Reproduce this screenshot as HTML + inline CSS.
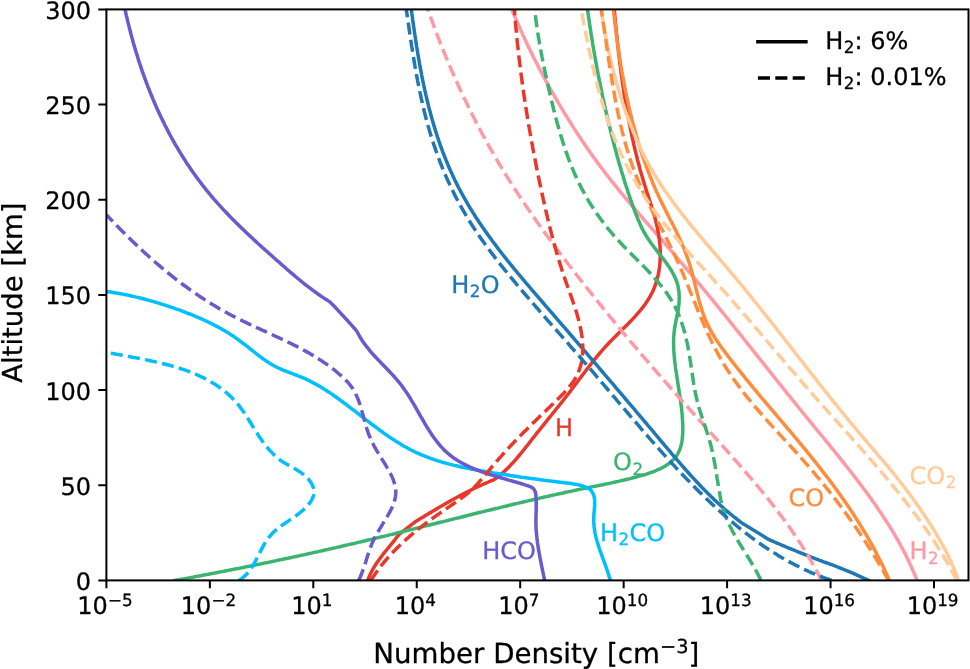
<!DOCTYPE html>
<html lang="en"><head><meta charset="utf-8"><title>Number Density vs Altitude</title>
<style>html,body{margin:0;padding:0;background:#fff}body{width:970px;height:669px;overflow:hidden}svg{will-change:transform}svg text{white-space:pre;stroke-width:0.3px;stroke-linejoin:round;text-rendering:geometricPrecision}</style>
</head><body>
<svg width="970" height="669" viewBox="0 0 970 669" style="display:block">
<rect width="970" height="669" fill="#ffffff"/>
<defs><clipPath id="ax"><rect x="106.4" y="9.4" width="862.1" height="571.0"/></clipPath></defs>
<g clip-path="url(#ax)" fill="none" stroke-width="3.5" stroke-linejoin="round">
<path d="M511.9 9.4 L512.6 11.3 L513.4 13.1 L514.2 15.0 L515.0 16.8 L515.7 18.6 L516.5 20.5 L517.3 22.3 L518.1 24.2 L518.9 26.0 L519.7 27.8 L520.5 29.7 L521.4 31.5 L522.2 33.3 L523.0 35.2 L523.9 37.0 L524.7 38.8 L525.5 40.6 L526.4 42.5 L527.3 44.3 L528.1 46.1 L529.0 47.9 L529.9 49.7 L530.8 51.5 L531.6 53.3 L532.5 55.1 L533.4 56.9 L534.3 58.7 L535.2 60.5 L536.1 62.3 L537.1 64.1 L538.0 65.9 L538.9 67.7 L539.8 69.5 L540.8 71.2 L541.7 73.0 L542.7 74.8 L543.6 76.6 L544.6 78.4 L545.5 80.1 L546.5 81.9 L547.5 83.7 L548.4 85.4 L549.4 87.2 L550.4 88.9 L551.4 90.7 L552.4 92.4 L553.4 94.2 L554.4 95.9 L555.4 97.7 L556.4 99.4 L557.4 101.2 L558.4 102.9 L559.5 104.6 L560.5 106.4 L561.5 108.1 L562.5 109.8 L563.6 111.6 L564.6 113.3 L565.7 115.0 L566.7 116.7 L567.8 118.4 L568.8 120.1 L569.9 121.8 L571.0 123.5 L572.1 125.2 L573.1 126.9 L574.2 128.6 L575.3 130.3 L576.4 132.0 L577.5 133.7 L578.6 135.4 L579.7 137.1 L580.8 138.7 L581.9 140.4 L583.1 142.1 L584.2 143.7 L585.3 145.4 L586.4 147.0 L587.6 148.7 L588.7 150.3 L589.9 152.0 L591.0 153.6 L592.2 155.3 L593.4 156.9 L594.5 158.5 L595.7 160.1 L596.9 161.8 L598.1 163.4 L599.3 165.0 L600.5 166.6 L601.7 168.2 L602.9 169.8 L604.1 171.4 L605.3 173.0 L606.6 174.6 L607.8 176.2 L609.0 177.7 L610.3 179.3 L611.5 180.9 L612.7 182.5 L614.0 184.0 L615.3 185.6 L616.5 187.2 L617.8 188.7 L619.1 190.3 L620.3 191.8 L621.6 193.4 L622.9 194.9 L624.2 196.4 L625.5 198.0 L626.8 199.5 L628.1 201.0 L629.4 202.6 L630.7 204.1 L632.0 205.6 L633.3 207.2 L634.6 208.7 L635.9 210.2 L637.2 211.7 L638.5 213.2 L639.8 214.8 L641.1 216.3 L642.5 217.8 L643.8 219.3 L645.1 220.8 L646.4 222.3 L647.7 223.9 L649.1 225.4 L650.4 226.9 L651.7 228.4 L653.0 229.9 L654.4 231.4 L655.7 232.9 L657.0 234.5 L658.3 236.0 L659.6 237.5 L660.9 239.0 L662.3 240.5 L663.6 242.0 L664.9 243.6 L666.2 245.1 L667.5 246.6 L668.8 248.1 L670.2 249.7 L671.5 251.2 L672.8 252.7 L674.1 254.2 L675.4 255.8 L676.7 257.3 L678.0 258.8 L679.3 260.3 L680.6 261.9 L681.9 263.4 L683.2 264.9 L684.5 266.5 L685.8 268.0 L687.1 269.5 L688.4 271.1 L689.7 272.6 L691.0 274.1 L692.3 275.7 L693.6 277.2 L694.9 278.8 L696.2 280.3 L697.5 281.8 L698.8 283.4 L700.1 284.9 L701.3 286.5 L702.6 288.0 L703.9 289.6 L705.2 291.1 L706.5 292.7 L707.7 294.2 L709.0 295.8 L710.3 297.3 L711.6 298.9 L712.8 300.4 L714.1 302.0 L715.4 303.5 L716.7 305.1 L717.9 306.7 L719.2 308.2 L720.5 309.8 L721.7 311.3 L723.0 312.9 L724.3 314.5 L725.5 316.0 L726.8 317.6 L728.0 319.2 L729.3 320.7 L730.6 322.3 L731.8 323.9 L733.1 325.4 L734.3 327.0 L735.6 328.6 L736.8 330.1 L738.1 331.7 L739.4 333.3 L740.6 334.8 L741.9 336.4 L743.1 338.0 L744.4 339.6 L745.6 341.1 L746.9 342.7 L748.1 344.3 L749.4 345.8 L750.6 347.4 L751.9 349.0 L753.1 350.6 L754.4 352.1 L755.6 353.7 L756.9 355.3 L758.1 356.9 L759.4 358.4 L760.6 360.0 L761.9 361.6 L763.1 363.1 L764.4 364.7 L765.6 366.3 L766.9 367.9 L768.1 369.4 L769.4 371.0 L770.6 372.6 L771.9 374.2 L773.1 375.7 L774.4 377.3 L775.6 378.9 L776.9 380.4 L778.1 382.0 L779.4 383.6 L780.7 385.2 L781.9 386.7 L783.2 388.3 L784.4 389.9 L785.7 391.4 L786.9 393.0 L788.2 394.6 L789.5 396.1 L790.7 397.7 L792.0 399.3 L793.2 400.8 L794.5 402.4 L795.8 404.0 L797.0 405.5 L798.3 407.1 L799.6 408.7 L800.8 410.2 L802.1 411.8 L803.4 413.3 L804.6 414.9 L805.9 416.5 L807.2 418.0 L808.5 419.6 L809.7 421.1 L811.0 422.7 L812.3 424.2 L813.6 425.8 L814.8 427.4 L816.1 428.9 L817.4 430.5 L818.7 432.0 L820.0 433.6 L821.2 435.1 L822.5 436.7 L823.8 438.2 L825.1 439.8 L826.3 441.4 L827.6 442.9 L828.9 444.5 L830.2 446.0 L831.4 447.6 L832.7 449.1 L834.0 450.7 L835.2 452.3 L836.5 453.8 L837.8 455.4 L839.0 457.0 L840.3 458.5 L841.5 460.1 L842.8 461.7 L844.0 463.2 L845.3 464.8 L846.5 466.4 L847.8 468.0 L849.0 469.6 L850.3 471.1 L851.5 472.7 L852.7 474.3 L854.0 475.9 L855.2 477.5 L856.4 479.1 L857.6 480.7 L858.9 482.3 L860.1 483.9 L861.3 485.5 L862.5 487.1 L863.7 488.7 L864.9 490.3 L866.1 491.9 L867.3 493.6 L868.5 495.2 L869.6 496.8 L870.8 498.4 L872.0 500.1 L873.1 501.7 L874.3 503.3 L875.5 505.0 L876.6 506.6 L877.7 508.3 L878.9 509.9 L880.0 511.6 L881.1 513.3 L882.2 514.9 L883.3 516.6 L884.4 518.3 L885.5 520.0 L886.6 521.7 L887.7 523.3 L888.8 525.0 L889.8 526.7 L890.9 528.5 L891.9 530.2 L893.0 531.9 L894.0 533.6 L895.0 535.3 L896.0 537.1 L897.0 538.8 L898.0 540.5 L899.0 542.3 L900.0 544.0 L900.9 545.8 L901.9 547.6 L902.8 549.3 L903.7 551.1 L904.7 552.9 L905.6 554.7 L906.5 556.5 L907.3 558.3 L908.2 560.1 L909.1 561.9 L909.9 563.7 L910.8 565.5 L911.6 567.4 L912.4 569.2 L913.2 571.1 L914.0 572.9 L914.8 574.8 L915.5 576.6 L916.3 578.5 L917.0 580.4" stroke="#ff99a5" stroke-linecap="square"/>
<path d="M614.2 9.4 L614.4 11.4 L614.6 13.4 L614.8 15.4 L615.0 17.4 L615.2 19.4 L615.3 21.4 L615.5 23.4 L615.7 25.5 L615.9 27.5 L616.1 29.5 L616.3 31.5 L616.5 33.5 L616.8 35.5 L617.0 37.5 L617.2 39.5 L617.4 41.5 L617.6 43.5 L617.8 45.5 L618.1 47.5 L618.3 49.5 L618.5 51.5 L618.7 53.5 L619.0 55.5 L619.2 57.5 L619.5 59.5 L619.7 61.5 L619.9 63.5 L620.2 65.5 L620.5 67.5 L620.7 69.5 L621.0 71.5 L621.2 73.5 L621.5 75.5 L621.8 77.5 L622.1 79.4 L622.3 81.4 L622.6 83.4 L622.9 85.4 L623.2 87.4 L623.5 89.4 L623.8 91.4 L624.1 93.4 L624.4 95.3 L624.7 97.3 L625.1 99.3 L625.4 101.3 L625.7 103.3 L626.0 105.3 L626.4 107.2 L626.7 109.2 L627.1 111.2 L627.4 113.2 L627.8 115.1 L628.2 117.1 L628.5 119.1 L628.9 121.1 L629.3 123.0 L629.7 125.0 L630.1 127.0 L630.5 128.9 L630.9 130.9 L631.3 132.9 L631.7 134.8 L632.1 136.8 L632.5 138.7 L633.0 140.7 L633.4 142.7 L633.8 144.6 L634.3 146.6 L634.8 148.5 L635.2 150.5 L635.7 152.4 L636.2 154.4 L636.7 156.3 L637.1 158.3 L637.6 160.2 L638.2 162.2 L638.7 164.1 L639.2 166.0 L639.7 168.0 L640.2 169.9 L640.8 171.9 L641.3 173.8 L641.9 175.7 L642.5 177.6 L643.0 179.6 L643.6 181.5 L644.2 183.4 L644.8 185.4 L645.4 187.3 L646.0 189.2 L646.6 191.1 L647.2 193.0 L647.9 194.9 L648.5 196.9 L649.1 198.8 L649.7 200.7 L650.3 202.6 L651.0 204.5 L651.6 206.5 L652.2 208.4 L652.7 210.3 L653.3 212.3 L653.9 214.2 L654.4 216.1 L655.0 218.1 L655.5 220.0 L656.0 222.0 L656.5 224.0 L656.9 225.9 L657.4 227.9 L657.8 229.9 L658.1 231.9 L658.5 233.9 L658.8 235.9 L659.1 237.9 L659.4 239.9 L659.6 241.9 L659.8 243.9 L660.0 246.0 L660.1 248.0 L660.2 250.1 L660.2 252.1 L660.3 254.2 L660.2 256.2 L660.2 258.3 L660.1 260.3 L660.0 262.3 L659.8 264.4 L659.6 266.4 L659.3 268.4 L659.0 270.4 L658.7 272.4 L658.3 274.3 L657.8 276.3 L657.4 278.2 L656.9 280.2 L656.3 282.1 L655.7 284.0 L655.0 285.8 L654.3 287.6 L653.6 289.5 L652.8 291.2 L651.9 293.0 L651.0 294.7 L650.1 296.4 L649.1 298.1 L648.1 299.8 L647.0 301.4 L645.9 303.1 L644.8 304.7 L643.6 306.3 L642.4 307.8 L641.2 309.4 L639.9 310.9 L638.6 312.4 L637.3 313.9 L636.0 315.4 L634.7 316.9 L633.3 318.4 L631.9 319.9 L630.5 321.3 L629.1 322.8 L627.7 324.2 L626.2 325.7 L624.8 327.1 L623.3 328.6 L621.9 330.0 L620.4 331.4 L619.0 332.9 L617.5 334.3 L616.1 335.7 L614.6 337.2 L613.2 338.6 L611.8 340.1 L610.3 341.5 L608.9 343.0 L607.5 344.5 L606.2 345.9 L604.8 347.4 L603.5 348.9 L602.1 350.4 L600.8 352.0 L599.5 353.5 L598.2 355.0 L596.9 356.6 L595.7 358.1 L594.4 359.7 L593.2 361.2 L591.9 362.8 L590.7 364.4 L589.5 365.9 L588.3 367.5 L587.0 369.1 L585.8 370.7 L584.6 372.3 L583.4 373.8 L582.2 375.4 L581.0 377.0 L579.8 378.6 L578.6 380.2 L577.4 381.8 L576.2 383.4 L575.0 385.0 L573.8 386.6 L572.6 388.2 L571.4 389.8 L570.2 391.4 L569.0 393.0 L567.8 394.5 L566.5 396.1 L565.3 397.7 L564.0 399.3 L562.8 400.9 L561.6 402.4 L560.3 404.0 L559.0 405.6 L557.8 407.2 L556.5 408.7 L555.3 410.3 L554.0 411.9 L552.7 413.4 L551.5 415.0 L550.2 416.6 L548.9 418.2 L547.7 419.7 L546.4 421.3 L545.1 422.9 L543.9 424.5 L542.6 426.0 L541.3 427.6 L540.1 429.2 L538.8 430.8 L537.5 432.3 L536.3 433.9 L535.0 435.5 L533.8 437.1 L532.5 438.7 L531.3 440.3 L530.1 441.9 L528.8 443.5 L527.6 445.1 L526.3 446.6 L525.1 448.2 L523.8 449.8 L522.6 451.4 L521.3 452.9 L520.0 454.5 L518.7 456.0 L517.4 457.5 L516.1 459.1 L514.8 460.6 L513.5 462.1 L512.1 463.5 L510.7 465.0 L509.4 466.4 L507.9 467.9 L506.5 469.3 L505.1 470.6 L503.6 472.0 L502.1 473.3 L500.6 474.6 L499.0 475.9 L497.5 477.2 L495.9 478.4 L494.2 479.6 L492.3 480.4 L490.3 481.2 L488.4 482.0 L486.5 482.8 L484.6 483.6 L482.7 484.5 L480.8 485.3 L478.9 486.2 L477.0 487.1 L475.1 488.0 L473.2 488.9 L471.3 489.8 L469.5 490.7 L467.6 491.7 L465.8 492.6 L463.9 493.6 L462.1 494.5 L460.2 495.5 L458.4 496.5 L456.6 497.5 L454.7 498.5 L452.9 499.5 L451.1 500.5 L449.3 501.5 L447.5 502.6 L445.6 503.6 L443.8 504.7 L442.0 505.7 L440.2 506.8 L438.4 507.8 L436.6 508.9 L434.8 509.9 L433.0 511.0 L431.3 512.1 L429.5 513.1 L427.7 514.2 L425.9 515.3 L424.1 516.4 L422.3 517.5 L420.5 518.5 L418.8 519.6 L417.0 520.7 L415.2 521.8 L399.0 534.4 L397.7 536.1 L396.4 537.8 L395.1 539.5 L393.8 541.1 L392.4 542.8 L391.1 544.5 L389.7 546.1 L388.3 547.8 L387.0 549.5 L385.6 551.2 L384.2 552.8 L382.9 554.5 L381.6 556.2 L380.3 558.0 L379.0 559.7 L377.8 561.4 L376.6 563.2 L375.4 565.0 L374.3 566.8 L373.2 568.7 L372.1 570.6 L371.1 572.5 L370.2 574.4 L369.3 576.4 L368.5 578.4 L367.8 580.4" stroke="#e8382b" stroke-linecap="square"/>
<path d="M587.5 9.4 L587.8 11.4 L588.1 13.4 L588.3 15.4 L588.6 17.4 L588.9 19.3 L589.2 21.3 L589.5 23.3 L589.8 25.3 L590.1 27.3 L590.4 29.3 L590.7 31.3 L591.0 33.2 L591.3 35.2 L591.6 37.2 L592.0 39.2 L592.3 41.2 L592.6 43.1 L592.9 45.1 L593.3 47.1 L593.6 49.1 L593.9 51.0 L594.3 53.0 L594.6 55.0 L595.0 56.9 L595.3 58.9 L595.7 60.9 L596.0 62.9 L596.4 64.8 L596.8 66.8 L597.1 68.8 L597.5 70.7 L597.9 72.7 L598.2 74.6 L598.6 76.6 L599.0 78.6 L599.4 80.5 L599.8 82.5 L600.2 84.5 L600.6 86.4 L601.0 88.4 L601.4 90.3 L601.8 92.3 L602.2 94.3 L602.6 96.2 L603.0 98.2 L603.5 100.1 L603.9 102.1 L604.3 104.0 L604.7 106.0 L605.2 107.9 L605.6 109.9 L606.1 111.9 L606.5 113.8 L607.0 115.8 L607.4 117.7 L607.9 119.7 L608.3 121.6 L608.8 123.6 L609.3 125.5 L609.8 127.5 L610.2 129.4 L610.7 131.4 L611.2 133.3 L611.7 135.3 L612.2 137.2 L612.7 139.2 L613.2 141.1 L613.7 143.1 L614.2 145.0 L614.7 147.0 L615.2 148.9 L615.8 150.8 L616.3 152.8 L616.8 154.7 L617.3 156.7 L617.9 158.6 L618.4 160.6 L619.0 162.5 L619.5 164.4 L620.1 166.4 L620.7 168.3 L621.2 170.2 L621.8 172.1 L622.4 174.1 L623.0 176.0 L623.5 177.9 L624.1 179.8 L624.7 181.7 L625.3 183.6 L625.9 185.5 L626.6 187.4 L627.2 189.3 L627.8 191.2 L628.4 193.1 L629.1 195.0 L629.7 196.9 L630.4 198.8 L631.0 200.7 L631.7 202.5 L632.3 204.4 L633.0 206.3 L633.7 208.1 L634.4 210.0 L635.0 211.9 L635.7 213.7 L636.5 215.5 L637.2 217.4 L637.9 219.2 L638.7 221.0 L639.5 222.8 L640.3 224.6 L641.1 226.4 L642.0 228.2 L642.9 230.0 L643.8 231.7 L644.8 233.5 L645.8 235.2 L646.9 236.9 L648.0 238.6 L649.1 240.3 L650.3 242.0 L651.5 243.7 L652.7 245.3 L654.0 247.0 L655.3 248.6 L656.5 250.3 L657.8 251.9 L659.1 253.6 L660.4 255.2 L661.7 256.9 L663.0 258.5 L664.2 260.2 L665.5 261.8 L666.7 263.5 L667.8 265.2 L669.0 266.8 L670.1 268.5 L671.2 270.2 L672.2 272.0 L673.1 273.7 L674.0 275.4 L674.9 277.2 L675.7 279.0 L676.4 280.8 L677.0 282.6 L677.6 284.5 L678.1 286.4 L678.4 288.3 L678.7 290.2 L679.0 292.1 L679.1 294.1 L679.2 296.0 L679.2 298.0 L679.2 300.0 L679.1 302.0 L678.9 304.0 L678.7 306.0 L678.5 308.0 L678.2 309.9 L677.8 311.9 L677.4 313.9 L677.0 315.8 L676.6 317.8 L676.2 319.8 L675.8 321.8 L675.4 323.7 L675.1 325.7 L674.7 327.7 L674.4 329.7 L674.2 331.7 L674.0 333.7 L673.8 335.7 L673.7 337.7 L673.6 339.7 L673.6 341.8 L673.6 343.8 L673.6 345.8 L673.7 347.8 L673.8 349.9 L673.9 351.9 L674.1 353.9 L674.2 355.9 L674.4 357.8 L674.6 359.8 L674.8 361.8 L675.0 363.8 L675.3 365.7 L675.5 367.7 L675.8 369.7 L676.1 371.6 L676.4 373.6 L676.7 375.5 L677.0 377.5 L677.3 379.4 L677.6 381.4 L677.9 383.3 L678.2 385.3 L678.5 387.2 L678.8 389.2 L679.1 391.1 L679.4 393.1 L679.7 395.1 L680.0 397.1 L680.3 399.0 L680.6 401.0 L680.9 403.0 L681.1 405.0 L681.4 407.0 L681.6 409.0 L681.8 411.1 L682.0 413.1 L682.2 415.1 L682.3 417.2 L682.5 419.3 L682.6 421.3 L682.7 423.4 L682.8 425.5 L682.8 427.7 L682.8 429.8 L682.8 431.9 L682.7 434.0 L682.5 436.0 L682.4 438.1 L682.1 440.1 L681.8 442.1 L681.4 444.1 L680.9 446.0 L680.4 447.8 L679.8 449.6 L679.0 451.4 L678.2 453.0 L677.3 454.6 L676.3 456.2 L675.2 457.6 L674.0 459.0 L672.7 460.3 L671.3 461.6 L669.9 462.8 L668.4 463.9 L666.8 465.0 L665.2 466.1 L663.5 467.0 L661.7 468.0 L659.9 468.9 L658.1 469.7 L656.2 470.5 L654.3 471.3 L652.4 472.0 L650.4 472.8 L648.4 473.4 L646.4 474.1 L644.4 474.7 L642.4 475.3 L640.3 475.9 L638.3 476.4 L636.3 477.0 L634.3 477.5 L632.3 478.0 L630.3 478.6 L628.3 479.0 L626.3 479.5 L624.3 480.0 L622.3 480.5 L620.3 480.9 L618.4 481.4 L616.4 481.8 L614.4 482.2 L612.5 482.6 L610.5 483.1 L608.6 483.5 L606.6 483.9 L604.7 484.3 L602.7 484.7 L600.8 485.1 L598.9 485.5 L596.9 485.9 L595.0 486.2 L593.0 486.6 L591.1 487.0 L589.2 487.4 L587.2 487.8 L585.3 488.2 L583.3 488.6 L581.4 489.0 L579.5 489.4 L577.5 489.8 L575.6 490.2 L573.7 490.6 L571.7 491.1 L569.8 491.5 L567.8 491.9 L565.9 492.3 L564.0 492.7 L562.0 493.2 L560.1 493.6 L558.1 494.0 L556.2 494.4 L554.2 494.9 L552.3 495.3 L550.4 495.7 L548.4 496.2 L546.5 496.6 L544.5 497.0 L542.6 497.5 L540.6 497.9 L538.7 498.4 L536.8 498.8 L534.8 499.3 L532.9 499.7 L530.9 500.2 L529.0 500.6 L527.0 501.1 L525.1 501.5 L523.1 502.0 L521.2 502.5 L519.2 502.9 L517.3 503.4 L515.4 503.8 L513.4 504.3 L511.5 504.8 L509.5 505.2 L507.6 505.7 L505.6 506.2 L503.7 506.6 L501.7 507.1 L499.8 507.6 L497.8 508.1 L495.9 508.5 L493.9 509.0 L492.0 509.5 L490.0 510.0 L488.1 510.4 L486.1 510.9 L484.2 511.4 L482.2 511.9 L480.3 512.3 L478.3 512.8 L476.4 513.3 L474.4 513.8 L472.5 514.3 L470.5 514.8 L468.6 515.2 L466.6 515.7 L464.7 516.2 L462.7 516.7 L460.8 517.2 L458.8 517.7 L456.9 518.1 L454.9 518.6 L453.0 519.1 L451.0 519.6 L449.1 520.1 L447.1 520.6 L445.2 521.1 L443.2 521.6 L441.3 522.0 L439.3 522.5 L437.4 523.0 L435.4 523.5 L433.5 524.0 L431.5 524.5 L429.6 525.0 L427.6 525.5 L425.7 525.9 L423.7 526.4 L421.8 526.9 L419.8 527.4 L417.9 527.9 L415.9 528.4 L414.0 528.9 L412.0 529.3 L410.0 529.8 L408.1 530.3 L406.1 530.8 L404.2 531.3 L402.2 531.8 L400.3 532.2 L398.3 532.7 L396.4 533.2 L394.4 533.7 L392.5 534.2 L390.5 534.6 L388.6 535.1 L386.6 535.6 L384.7 536.1 L382.7 536.5 L380.8 537.0 L378.8 537.5 L376.9 537.9 L374.9 538.4 L373.0 538.9 L371.0 539.4 L369.1 539.8 L367.1 540.3 L365.2 540.8 L363.2 541.2 L361.2 541.7 L359.3 542.1 L357.3 542.6 L355.4 543.1 L353.4 543.5 L351.5 544.0 L349.5 544.4 L347.6 544.9 L345.6 545.3 L343.7 545.8 L341.7 546.2 L339.8 546.7 L337.8 547.1 L335.9 547.6 L333.9 548.0 L332.0 548.5 L330.0 548.9 L328.1 549.4 L326.1 549.8 L324.2 550.2 L322.2 550.7 L320.3 551.1 L318.3 551.6 L316.4 552.0 L314.4 552.4 L312.5 552.9 L310.5 553.3 L308.5 553.7 L306.6 554.1 L304.6 554.6 L302.7 555.0 L300.7 555.4 L298.8 555.9 L296.8 556.3 L294.9 556.7 L292.9 557.1 L291.0 557.5 L289.0 558.0 L287.1 558.4 L285.1 558.8 L283.1 559.2 L281.2 559.6 L279.2 560.0 L277.3 560.4 L275.3 560.9 L273.4 561.3 L271.4 561.7 L269.4 562.1 L267.5 562.5 L265.5 562.9 L263.6 563.3 L261.6 563.7 L259.7 564.1 L257.7 564.5 L255.7 564.9 L253.8 565.3 L251.8 565.7 L249.9 566.1 L247.9 566.5 L245.9 566.9 L244.0 567.3 L242.0 567.7 L240.0 568.1 L238.1 568.5 L236.1 568.8 L234.2 569.2 L232.2 569.6 L230.2 570.0 L228.3 570.4 L226.3 570.8 L224.3 571.2 L222.4 571.5 L220.4 571.9 L218.4 572.3 L216.5 572.7 L214.5 573.1 L212.5 573.4 L210.5 573.8 L208.6 574.2 L206.6 574.6 L204.6 574.9 L202.7 575.3 L200.7 575.7 L198.7 576.0 L196.7 576.4 L194.8 576.8 L192.8 577.2 L190.8 577.5 L188.8 577.9 L186.9 578.2 L184.9 578.6 L182.9 579.0 L180.9 579.3 L179.0 579.7 L177.0 580.0 L175.0 580.4" stroke="#3cb371" stroke-linecap="square"/>
<path d="M613.4 9.4 L613.6 11.4 L613.8 13.4 L614.1 15.4 L614.3 17.3 L614.5 19.3 L614.8 21.3 L615.0 23.3 L615.2 25.3 L615.5 27.3 L615.7 29.3 L616.0 31.2 L616.2 33.2 L616.5 35.2 L616.7 37.2 L617.0 39.2 L617.3 41.2 L617.6 43.2 L617.8 45.2 L618.1 47.2 L618.4 49.2 L618.7 51.1 L619.0 53.1 L619.3 55.1 L619.6 57.1 L619.9 59.1 L620.2 61.1 L620.5 63.1 L620.8 65.1 L621.2 67.0 L621.5 69.0 L621.8 71.0 L622.2 73.0 L622.5 75.0 L622.9 77.0 L623.2 78.9 L623.6 80.9 L624.0 82.9 L624.3 84.9 L624.7 86.8 L625.1 88.8 L625.5 90.8 L625.9 92.8 L626.3 94.7 L626.7 96.7 L627.1 98.7 L627.6 100.6 L628.0 102.6 L628.4 104.6 L628.9 106.5 L629.3 108.5 L629.8 110.4 L630.2 112.4 L630.7 114.4 L631.2 116.3 L631.7 118.3 L632.1 120.2 L632.6 122.2 L633.1 124.1 L633.7 126.0 L634.2 128.0 L634.7 129.9 L635.2 131.9 L635.8 133.8 L636.3 135.7 L636.9 137.6 L637.5 139.6 L638.0 141.5 L638.6 143.4 L639.2 145.3 L639.8 147.2 L640.4 149.2 L641.0 151.1 L641.6 153.0 L642.3 154.9 L642.9 156.8 L643.6 158.7 L644.2 160.6 L644.9 162.5 L645.6 164.3 L646.2 166.2 L646.9 168.1 L647.6 170.0 L648.4 171.9 L649.1 173.7 L649.8 175.6 L650.6 177.5 L651.3 179.3 L652.1 181.2 L652.8 183.0 L653.6 184.9 L654.4 186.7 L655.2 188.6 L656.0 190.4 L656.8 192.2 L657.7 194.1 L658.5 195.9 L659.4 197.7 L660.2 199.5 L661.1 201.3 L662.0 203.1 L662.9 204.9 L663.8 206.7 L664.7 208.5 L665.6 210.3 L666.5 212.1 L667.4 213.9 L668.3 215.7 L669.2 217.5 L670.1 219.3 L671.1 221.1 L672.0 222.9 L672.9 224.7 L673.8 226.5 L674.7 228.3 L675.6 230.1 L676.5 231.9 L677.3 233.7 L678.2 235.5 L679.0 237.3 L679.9 239.1 L680.7 241.0 L681.5 242.8 L682.3 244.6 L683.1 246.5 L683.9 248.3 L684.6 250.2 L685.3 252.0 L686.0 253.9 L686.7 255.8 L687.4 257.7 L688.0 259.5 L688.7 261.4 L689.3 263.3 L689.9 265.3 L690.4 267.2 L691.0 269.1 L691.6 271.0 L692.1 273.0 L692.6 274.9 L693.1 276.9 L693.6 278.8 L694.1 280.8 L694.6 282.7 L695.1 284.7 L695.5 286.6 L696.0 288.6 L696.5 290.5 L697.0 292.5 L697.5 294.4 L698.0 296.4 L698.5 298.3 L699.0 300.3 L699.5 302.2 L700.1 304.1 L700.7 306.0 L701.2 307.9 L701.8 309.8 L702.5 311.7 L703.1 313.6 L703.8 315.4 L704.5 317.3 L705.2 319.1 L706.0 321.0 L706.8 322.8 L707.6 324.5 L708.5 326.3 L709.4 328.1 L710.3 329.8 L711.3 331.5 L712.2 333.3 L713.3 335.0 L714.3 336.7 L715.3 338.3 L716.4 340.0 L717.5 341.7 L718.7 343.3 L719.8 344.9 L720.9 346.6 L722.1 348.2 L723.3 349.8 L724.5 351.4 L725.7 353.0 L726.9 354.6 L728.1 356.2 L729.3 357.8 L730.5 359.4 L731.8 361.0 L733.0 362.6 L734.2 364.2 L735.5 365.7 L736.7 367.3 L738.0 368.9 L739.2 370.4 L740.5 372.0 L741.7 373.6 L743.0 375.1 L744.3 376.7 L745.5 378.3 L746.8 379.8 L748.1 381.4 L749.3 382.9 L750.6 384.5 L751.9 386.0 L753.2 387.6 L754.5 389.1 L755.7 390.7 L757.0 392.2 L758.3 393.8 L759.6 395.3 L760.9 396.8 L762.2 398.4 L763.5 399.9 L764.8 401.5 L766.1 403.0 L767.4 404.5 L768.7 406.1 L770.0 407.6 L771.3 409.1 L772.6 410.7 L773.9 412.2 L775.2 413.7 L776.5 415.3 L777.8 416.8 L779.1 418.3 L780.4 419.9 L781.7 421.4 L783.0 422.9 L784.3 424.5 L785.6 426.0 L786.9 427.6 L788.2 429.1 L789.5 430.6 L790.8 432.2 L792.1 433.7 L793.4 435.2 L794.7 436.8 L796.0 438.3 L797.3 439.9 L798.5 441.4 L799.8 443.0 L801.1 444.5 L802.4 446.1 L803.7 447.6 L805.0 449.2 L806.2 450.7 L807.5 452.3 L808.8 453.8 L810.0 455.4 L811.3 457.0 L812.6 458.5 L813.8 460.1 L815.1 461.7 L816.3 463.3 L817.6 464.8 L818.8 466.4 L820.1 468.0 L821.3 469.6 L822.5 471.2 L823.8 472.8 L825.0 474.3 L826.2 475.9 L827.4 477.5 L828.7 479.1 L829.9 480.7 L831.1 482.4 L832.3 484.0 L833.5 485.6 L834.7 487.2 L835.8 488.8 L837.0 490.4 L838.2 492.1 L839.4 493.7 L840.5 495.3 L841.7 497.0 L842.8 498.6 L844.0 500.3 L845.1 501.9 L846.3 503.5 L847.4 505.2 L848.5 506.9 L849.7 508.5 L850.8 510.2 L851.9 511.9 L853.0 513.5 L854.1 515.2 L855.2 516.9 L856.3 518.6 L857.3 520.3 L858.4 522.0 L859.5 523.7 L860.5 525.4 L861.6 527.1 L862.6 528.8 L863.6 530.5 L864.7 532.2 L865.7 533.9 L866.7 535.7 L867.7 537.4 L868.7 539.1 L869.7 540.9 L870.7 542.6 L871.7 544.4 L872.6 546.1 L873.6 547.9 L874.5 549.6 L875.5 551.4 L876.4 553.2 L877.3 555.0 L878.2 556.7 L879.1 558.5 L880.0 560.3 L880.9 562.1 L881.8 563.9 L882.7 565.7 L883.5 567.6 L884.4 569.4 L885.2 571.2 L886.1 573.0 L886.9 574.9 L887.7 576.7 L888.5 578.5 L889.3 580.4" stroke="#ff8c3c" stroke-linecap="square"/>
<path d="M601.2 9.4 L601.5 11.4 L601.8 13.4 L602.1 15.3 L602.4 17.3 L602.7 19.3 L603.0 21.3 L603.3 23.2 L603.6 25.2 L604.0 27.2 L604.3 29.2 L604.7 31.1 L605.0 33.1 L605.4 35.1 L605.8 37.1 L606.2 39.0 L606.5 41.0 L606.9 43.0 L607.3 45.0 L607.7 46.9 L608.2 48.9 L608.6 50.9 L609.0 52.8 L609.5 54.8 L609.9 56.7 L610.3 58.7 L610.8 60.7 L611.3 62.6 L611.7 64.6 L612.2 66.5 L612.7 68.5 L613.2 70.4 L613.7 72.4 L614.2 74.3 L614.8 76.3 L615.3 78.2 L615.8 80.2 L616.4 82.1 L616.9 84.1 L617.5 86.0 L618.0 87.9 L618.6 89.9 L619.2 91.8 L619.8 93.7 L620.4 95.6 L621.0 97.6 L621.6 99.5 L622.2 101.4 L622.8 103.3 L623.5 105.2 L624.1 107.1 L624.8 109.1 L625.4 111.0 L626.1 112.9 L626.8 114.8 L627.4 116.7 L628.1 118.5 L628.8 120.4 L629.6 122.3 L630.3 124.2 L631.0 126.1 L631.7 127.9 L632.5 129.8 L633.2 131.7 L634.0 133.5 L634.8 135.4 L635.6 137.2 L636.4 139.1 L637.2 140.9 L638.0 142.8 L638.8 144.6 L639.7 146.4 L640.5 148.2 L641.4 150.0 L642.2 151.8 L643.1 153.6 L644.0 155.4 L644.9 157.2 L645.8 159.0 L646.8 160.8 L647.7 162.5 L648.7 164.3 L649.6 166.0 L650.6 167.8 L651.6 169.5 L652.6 171.2 L653.6 172.9 L654.6 174.7 L655.7 176.4 L656.7 178.1 L657.8 179.7 L658.8 181.4 L659.9 183.1 L661.0 184.8 L662.1 186.5 L663.2 188.1 L664.3 189.8 L665.5 191.4 L666.6 193.1 L667.7 194.7 L668.9 196.3 L670.1 198.0 L671.2 199.6 L672.4 201.2 L673.6 202.8 L674.8 204.4 L676.0 206.0 L677.2 207.6 L678.4 209.2 L679.6 210.8 L680.8 212.4 L682.1 214.0 L683.3 215.6 L684.6 217.2 L685.8 218.7 L687.1 220.3 L688.3 221.9 L689.6 223.5 L690.9 225.0 L692.1 226.6 L693.4 228.1 L694.7 229.7 L696.0 231.2 L697.3 232.8 L698.6 234.4 L699.9 235.9 L701.1 237.4 L702.5 239.0 L703.8 240.5 L705.1 242.1 L706.4 243.6 L707.7 245.2 L709.0 246.7 L710.3 248.2 L711.6 249.8 L712.9 251.3 L714.2 252.8 L715.5 254.4 L716.9 255.9 L718.2 257.4 L719.5 259.0 L720.8 260.5 L722.1 262.1 L723.4 263.6 L724.7 265.1 L726.0 266.7 L727.4 268.2 L728.7 269.8 L730.0 271.3 L731.3 272.8 L732.6 274.4 L733.9 275.9 L735.2 277.5 L736.4 279.0 L737.7 280.6 L739.0 282.1 L740.3 283.7 L741.6 285.2 L742.9 286.8 L744.1 288.4 L745.4 289.9 L746.7 291.5 L748.0 293.0 L749.2 294.6 L750.5 296.2 L751.8 297.7 L753.0 299.3 L754.3 300.9 L755.6 302.4 L756.8 304.0 L758.1 305.6 L759.3 307.1 L760.6 308.7 L761.8 310.3 L763.1 311.9 L764.3 313.4 L765.6 315.0 L766.8 316.6 L768.1 318.2 L769.3 319.7 L770.6 321.3 L771.8 322.9 L773.0 324.5 L774.3 326.1 L775.5 327.6 L776.8 329.2 L778.0 330.8 L779.2 332.4 L780.5 334.0 L781.7 335.5 L783.0 337.1 L784.2 338.7 L785.4 340.3 L786.7 341.9 L787.9 343.5 L789.1 345.0 L790.4 346.6 L791.6 348.2 L792.8 349.8 L794.1 351.4 L795.3 353.0 L796.5 354.5 L797.8 356.1 L799.0 357.7 L800.2 359.3 L801.4 360.9 L802.7 362.4 L803.9 364.0 L805.1 365.6 L806.4 367.2 L807.6 368.8 L808.9 370.4 L810.1 371.9 L811.3 373.5 L812.6 375.1 L813.8 376.7 L815.0 378.2 L816.3 379.8 L817.5 381.4 L818.8 383.0 L820.0 384.6 L821.2 386.1 L822.5 387.7 L823.7 389.3 L825.0 390.8 L826.2 392.4 L827.5 394.0 L828.7 395.6 L830.0 397.1 L831.2 398.7 L832.5 400.3 L833.7 401.8 L835.0 403.4 L836.2 404.9 L837.5 406.5 L838.8 408.1 L840.0 409.6 L841.3 411.2 L842.5 412.7 L843.8 414.3 L845.1 415.9 L846.4 417.4 L847.6 419.0 L848.9 420.5 L850.2 422.1 L851.5 423.6 L852.7 425.1 L854.0 426.7 L855.3 428.2 L856.6 429.8 L857.9 431.3 L859.2 432.9 L860.5 434.4 L861.8 435.9 L863.1 437.5 L864.4 439.0 L865.7 440.5 L867.0 442.0 L868.3 443.6 L869.6 445.1 L870.9 446.6 L872.2 448.1 L873.6 449.7 L874.9 451.2 L876.2 452.7 L877.5 454.3 L878.8 455.8 L880.1 457.3 L881.4 458.9 L882.7 460.4 L884.0 461.9 L885.3 463.5 L886.6 465.0 L887.9 466.5 L889.2 468.1 L890.4 469.6 L891.7 471.2 L893.0 472.7 L894.3 474.3 L895.5 475.9 L896.8 477.4 L898.0 479.0 L899.3 480.6 L900.5 482.2 L901.8 483.8 L903.0 485.3 L904.2 486.9 L905.4 488.5 L906.6 490.2 L907.8 491.8 L909.0 493.4 L910.2 495.0 L911.4 496.6 L912.6 498.3 L913.7 499.9 L914.9 501.5 L916.1 503.2 L917.2 504.8 L918.4 506.5 L919.5 508.1 L920.7 509.8 L921.8 511.5 L922.9 513.1 L924.1 514.8 L925.2 516.5 L926.3 518.1 L927.4 519.8 L928.5 521.5 L929.6 523.2 L930.7 524.9 L931.8 526.6 L932.8 528.3 L933.9 530.0 L934.9 531.7 L936.0 533.4 L937.0 535.2 L938.0 536.9 L939.0 538.6 L940.0 540.4 L941.0 542.1 L942.0 543.9 L943.0 545.6 L943.9 547.4 L944.9 549.1 L945.8 550.9 L946.7 552.7 L947.6 554.5 L948.5 556.3 L949.3 558.1 L950.2 559.9 L951.0 561.7 L951.8 563.6 L952.6 565.4 L953.4 567.2 L954.2 569.1 L954.9 571.0 L955.6 572.8 L956.3 574.7 L957.0 576.6 L957.7 578.5 L958.3 580.4" stroke="#ffcc99" stroke-linecap="square"/>
<path d="M411.3 9.4 L411.6 11.4 L411.8 13.3 L412.1 15.3 L412.4 17.3 L412.6 19.2 L412.9 21.2 L413.2 23.2 L413.5 25.2 L413.7 27.1 L414.0 29.1 L414.3 31.1 L414.6 33.1 L414.9 35.1 L415.2 37.0 L415.5 39.0 L415.8 41.0 L416.1 43.0 L416.4 45.0 L416.7 47.0 L417.1 49.0 L417.4 51.0 L417.7 52.9 L418.0 54.9 L418.4 56.9 L418.7 58.9 L419.1 60.9 L419.4 62.9 L419.8 64.9 L420.1 66.9 L420.5 68.8 L420.9 70.8 L421.3 72.8 L421.6 74.8 L422.0 76.8 L422.4 78.8 L422.8 80.8 L423.2 82.7 L423.6 84.7 L424.1 86.7 L424.5 88.7 L424.9 90.6 L425.4 92.6 L425.8 94.6 L426.3 96.6 L426.7 98.5 L427.2 100.5 L427.7 102.5 L428.2 104.4 L428.6 106.4 L429.1 108.3 L429.7 110.3 L430.2 112.2 L430.7 114.2 L431.2 116.1 L431.8 118.1 L432.3 120.0 L432.9 122.0 L433.4 123.9 L434.0 125.8 L434.6 127.8 L435.2 129.7 L435.8 131.6 L436.4 133.5 L437.0 135.4 L437.6 137.3 L438.3 139.2 L438.9 141.1 L439.6 143.0 L440.2 144.9 L440.9 146.8 L441.6 148.7 L442.3 150.6 L443.0 152.5 L443.7 154.3 L444.5 156.2 L445.2 158.1 L445.9 159.9 L446.7 161.8 L447.5 163.6 L448.2 165.5 L449.0 167.3 L449.8 169.1 L450.6 171.0 L451.5 172.8 L452.3 174.6 L453.1 176.4 L454.0 178.2 L454.8 180.0 L455.7 181.8 L456.6 183.6 L457.5 185.4 L458.4 187.2 L459.3 188.9 L460.3 190.7 L461.2 192.5 L462.2 194.2 L463.1 196.0 L464.1 197.7 L465.1 199.4 L466.1 201.2 L467.1 202.9 L468.1 204.6 L469.1 206.3 L470.1 208.0 L471.2 209.7 L472.2 211.4 L473.3 213.1 L474.4 214.8 L475.4 216.5 L476.5 218.2 L477.6 219.8 L478.7 221.5 L479.8 223.2 L481.0 224.8 L482.1 226.5 L483.2 228.1 L484.4 229.8 L485.5 231.4 L486.7 233.0 L487.8 234.7 L489.0 236.3 L490.2 237.9 L491.4 239.5 L492.6 241.2 L493.8 242.8 L495.0 244.4 L496.2 246.0 L497.4 247.6 L498.6 249.2 L499.8 250.8 L501.1 252.4 L502.3 254.0 L503.5 255.5 L504.8 257.1 L506.0 258.7 L507.3 260.3 L508.6 261.8 L509.8 263.4 L511.1 265.0 L512.4 266.5 L513.6 268.1 L514.9 269.7 L516.2 271.2 L517.5 272.8 L518.8 274.3 L520.1 275.9 L521.4 277.4 L522.7 279.0 L524.0 280.5 L525.3 282.1 L526.6 283.6 L527.9 285.2 L529.2 286.7 L530.5 288.2 L531.8 289.8 L533.1 291.3 L534.5 292.8 L535.8 294.4 L537.1 295.9 L538.4 297.4 L539.7 298.9 L541.1 300.5 L542.4 302.0 L543.7 303.5 L545.0 305.1 L546.3 306.6 L547.7 308.1 L549.0 309.6 L550.3 311.2 L551.6 312.7 L552.9 314.2 L554.2 315.7 L555.6 317.2 L556.9 318.8 L558.2 320.3 L559.5 321.8 L560.8 323.3 L562.1 324.9 L563.4 326.4 L564.8 327.9 L566.1 329.4 L567.4 330.9 L568.7 332.5 L570.0 334.0 L571.3 335.5 L572.6 337.0 L573.9 338.5 L575.2 340.1 L576.5 341.6 L577.8 343.1 L579.1 344.6 L580.4 346.1 L581.7 347.7 L583.0 349.2 L584.4 350.7 L585.7 352.2 L587.0 353.7 L588.3 355.3 L589.6 356.8 L590.9 358.3 L592.2 359.8 L593.5 361.4 L594.8 362.9 L596.1 364.4 L597.4 365.9 L598.7 367.4 L600.0 369.0 L601.3 370.5 L602.6 372.0 L603.9 373.5 L605.2 375.1 L606.5 376.6 L607.8 378.1 L609.1 379.6 L610.4 381.2 L611.7 382.7 L613.0 384.2 L614.3 385.7 L615.6 387.3 L616.9 388.8 L618.2 390.3 L619.5 391.9 L620.8 393.4 L622.1 394.9 L623.4 396.4 L624.7 398.0 L626.0 399.5 L627.3 401.0 L628.6 402.6 L629.9 404.1 L631.2 405.6 L632.5 407.2 L633.8 408.7 L635.1 410.2 L636.4 411.8 L637.7 413.3 L639.0 414.8 L640.3 416.4 L641.6 417.9 L642.9 419.4 L644.2 421.0 L645.5 422.5 L646.8 424.0 L648.1 425.6 L649.4 427.1 L650.7 428.7 L652.0 430.2 L653.3 431.7 L654.6 433.3 L655.9 434.8 L657.2 436.3 L658.5 437.9 L659.7 439.4 L661.0 441.0 L662.3 442.5 L663.6 444.0 L664.9 445.6 L666.2 447.1 L667.5 448.7 L668.8 450.2 L670.1 451.7 L671.4 453.3 L672.7 454.8 L674.0 456.3 L675.4 457.9 L676.7 459.4 L678.0 460.9 L679.3 462.4 L680.6 463.9 L681.9 465.5 L683.3 467.0 L684.6 468.5 L685.9 470.0 L687.3 471.5 L688.6 473.0 L689.9 474.5 L691.3 476.0 L692.6 477.4 L694.0 478.9 L695.4 480.4 L696.7 481.9 L698.1 483.3 L699.5 484.8 L700.9 486.2 L702.2 487.7 L703.6 489.1 L705.0 490.5 L706.5 492.0 L707.9 493.4 L709.3 494.8 L710.7 496.2 L712.2 497.6 L713.6 499.0 L715.0 500.4 L716.5 501.7 L718.0 503.1 L719.5 504.4 L720.9 505.8 L722.4 507.1 L723.9 508.5 L725.4 509.8 L727.0 511.1 L728.5 512.4 L730.0 513.7 L731.6 515.0 L733.1 516.2 L734.7 517.5 L736.3 518.7 L737.9 520.0 L739.5 521.2 L741.1 522.4 L742.7 523.6 L768.7 539.4 L770.6 540.3 L772.6 541.1 L774.5 542.0 L776.5 542.8 L778.4 543.7 L780.4 544.5 L782.3 545.3 L784.3 546.1 L786.2 547.0 L788.2 547.8 L790.1 548.6 L792.1 549.4 L794.0 550.2 L796.0 551.0 L798.0 551.8 L799.9 552.6 L801.9 553.4 L803.9 554.2 L805.8 555.0 L807.8 555.7 L809.8 556.5 L811.8 557.3 L813.7 558.0 L815.7 558.8 L817.7 559.5 L819.7 560.3 L821.7 561.0 L823.6 561.8 L825.6 562.5 L827.6 563.2 L829.6 564.0 L831.6 564.7 L833.6 565.4 L852.2 572.8 L868.5 580.4" stroke="#1f77b4" stroke-linecap="square"/>
<path d="M106.7 291.5 L108.7 291.8 L110.7 292.1 L112.7 292.4 L114.7 292.7 L116.7 293.1 L118.7 293.4 L120.6 293.8 L122.6 294.1 L124.6 294.5 L126.6 294.9 L128.5 295.3 L130.5 295.7 L132.4 296.2 L134.4 296.6 L136.3 297.1 L138.3 297.5 L140.2 298.0 L142.2 298.5 L144.1 299.0 L146.0 299.5 L148.0 300.1 L149.9 300.6 L151.8 301.1 L153.7 301.7 L155.7 302.2 L157.6 302.8 L159.5 303.4 L161.4 304.0 L163.3 304.6 L165.2 305.2 L167.1 305.8 L169.0 306.5 L170.9 307.1 L172.8 307.7 L174.7 308.4 L176.6 309.1 L178.5 309.7 L180.4 310.4 L182.3 311.1 L184.2 311.8 L186.1 312.5 L187.9 313.3 L189.8 314.0 L191.7 314.7 L193.5 315.5 L195.4 316.3 L197.3 317.1 L199.1 317.9 L200.9 318.7 L202.8 319.5 L204.6 320.3 L206.4 321.2 L208.2 322.0 L210.0 322.9 L211.8 323.8 L213.6 324.7 L215.4 325.6 L217.2 326.6 L218.9 327.5 L220.7 328.5 L222.4 329.5 L224.2 330.5 L225.9 331.5 L227.6 332.6 L229.3 333.6 L231.0 334.7 L232.7 335.8 L234.3 336.9 L236.0 338.1 L237.6 339.2 L239.2 340.4 L240.8 341.6 L242.4 342.8 L244.0 344.0 L245.6 345.2 L247.2 346.5 L248.8 347.7 L250.3 349.0 L251.9 350.2 L253.5 351.5 L255.0 352.7 L256.6 354.0 L258.2 355.2 L259.8 356.4 L261.4 357.6 L263.0 358.8 L264.7 359.9 L266.3 361.0 L268.0 362.1 L269.7 363.2 L271.4 364.3 L273.1 365.3 L274.8 366.2 L276.6 367.2 L278.4 368.0 L280.3 368.9 L282.1 369.7 L284.0 370.5 L285.9 371.2 L287.8 371.9 L289.7 372.7 L291.7 373.4 L293.6 374.1 L295.5 374.8 L297.4 375.5 L299.3 376.3 L301.2 377.0 L303.0 377.8 L304.9 378.6 L306.7 379.5 L308.5 380.4 L310.3 381.2 L312.0 382.1 L313.8 383.1 L315.5 384.0 L317.3 385.0 L319.0 386.0 L320.7 387.0 L322.4 388.0 L324.1 389.1 L325.7 390.1 L327.4 391.2 L329.1 392.3 L330.7 393.4 L332.4 394.5 L334.0 395.7 L335.6 396.8 L337.3 398.0 L338.9 399.1 L340.5 400.3 L342.1 401.5 L343.7 402.7 L345.4 403.9 L347.0 405.1 L348.6 406.3 L350.2 407.5 L351.8 408.8 L353.4 410.0 L355.0 411.2 L356.6 412.5 L358.2 413.7 L359.7 414.9 L361.3 416.2 L362.9 417.4 L364.5 418.6 L366.1 419.9 L367.7 421.1 L369.3 422.3 L370.9 423.6 L372.5 424.8 L374.2 426.0 L375.8 427.2 L377.4 428.4 L379.0 429.6 L380.6 430.8 L382.3 432.0 L383.9 433.1 L385.5 434.3 L387.2 435.5 L388.8 436.6 L390.5 437.7 L392.1 438.8 L393.8 439.9 L395.5 441.0 L397.2 442.1 L398.9 443.1 L400.6 444.1 L402.3 445.2 L404.0 446.2 L405.8 447.1 L407.5 448.1 L409.3 449.0 L411.0 450.0 L412.8 450.9 L414.6 451.7 L416.4 452.6 L418.2 453.4 L420.0 454.2 L421.8 455.0 L423.7 455.7 L425.5 456.5 L427.4 457.2 L429.3 457.9 L431.2 458.6 L433.0 459.2 L434.9 459.9 L436.8 460.5 L438.8 461.1 L440.7 461.7 L442.6 462.3 L444.5 462.8 L446.5 463.4 L448.4 463.9 L450.4 464.4 L452.3 464.9 L454.3 465.4 L456.3 465.8 L458.3 466.3 L460.2 466.7 L462.2 467.2 L464.2 467.6 L466.2 468.0 L468.2 468.4 L470.2 468.8 L472.1 469.2 L474.1 469.6 L476.1 469.9 L478.1 470.3 L480.1 470.6 L482.1 471.0 L484.1 471.3 L486.1 471.7 L488.1 472.0 L490.1 472.3 L492.1 472.6 L494.1 473.0 L496.1 473.3 L498.0 473.6 L500.0 473.9 L502.0 474.2 L504.0 474.5 L506.0 474.8 L507.9 475.1 L509.9 475.4 L511.9 475.7 L513.8 476.0 L515.8 476.3 L517.8 476.6 L519.7 476.9 L521.7 477.2 L523.7 477.4 L525.6 477.7 L527.6 478.0 L529.6 478.3 L531.6 478.5 L533.5 478.8 L535.5 479.1 L537.5 479.3 L539.4 479.6 L541.4 479.9 L543.4 480.1 L545.4 480.4 L547.4 480.6 L549.3 480.9 L551.3 481.1 L553.3 481.4 L555.3 481.6 L557.3 481.9 L559.3 482.1 L561.3 482.4 L563.3 482.6 L565.3 482.9 L567.3 483.1 L569.3 483.3 L571.4 483.6 L573.4 483.9 L575.4 484.2 L577.4 484.6 L579.3 485.0 L581.3 485.5 L583.2 486.1 L585.1 486.8 L586.9 487.6 L588.7 488.5 L590.3 489.7 L591.6 491.2 L592.7 492.9 L593.5 494.8 L594.1 496.7 L594.5 498.6 L594.7 500.6 L594.7 502.7 L594.7 504.8 L594.6 506.9 L594.4 509.0 L594.2 511.1 L594.0 513.1 L593.9 515.2 L593.8 517.2 L593.7 519.2 L593.7 521.1 L593.8 523.1 L594.0 525.0 L594.1 526.9 L594.4 528.8 L594.7 530.7 L595.0 532.6 L595.4 534.5 L595.8 536.4 L596.3 538.4 L596.8 540.3 L597.4 542.2 L598.0 544.1 L598.6 546.0 L599.2 548.0 L599.8 549.9 L600.5 551.8 L601.2 553.7 L601.9 555.6 L602.6 557.6 L603.3 559.5 L604.0 561.4 L604.7 563.3 L605.4 565.2 L606.1 567.1 L606.7 569.0 L607.4 570.9 L608.0 572.8 L608.6 574.7 L609.2 576.6 L609.8 578.5 L610.3 580.4" stroke="#00bfff" stroke-linecap="square"/>
<path d="M125.0 9.4 L125.5 11.4 L125.9 13.3 L126.3 15.3 L126.8 17.3 L127.3 19.2 L127.7 21.2 L128.2 23.2 L128.7 25.1 L129.2 27.1 L129.7 29.1 L130.2 31.0 L130.7 33.0 L131.2 34.9 L131.7 36.9 L132.3 38.8 L132.8 40.8 L133.3 42.7 L133.9 44.7 L134.5 46.6 L135.0 48.6 L135.6 50.5 L136.2 52.5 L136.8 54.4 L137.4 56.3 L138.0 58.2 L138.6 60.2 L139.2 62.1 L139.9 64.0 L140.5 65.9 L141.1 67.9 L141.8 69.8 L142.4 71.7 L143.1 73.6 L143.8 75.5 L144.5 77.4 L145.2 79.3 L145.9 81.2 L146.6 83.1 L147.3 85.0 L148.0 86.9 L148.8 88.7 L149.5 90.6 L150.2 92.5 L151.0 94.4 L151.8 96.2 L152.5 98.1 L153.3 99.9 L154.1 101.8 L154.9 103.7 L155.7 105.5 L156.5 107.3 L157.3 109.2 L158.2 111.0 L159.0 112.9 L159.9 114.7 L160.7 116.5 L161.6 118.3 L162.5 120.1 L163.4 121.9 L164.2 123.7 L165.1 125.5 L166.1 127.3 L167.0 129.1 L167.9 130.9 L168.8 132.7 L169.8 134.5 L170.7 136.2 L171.7 138.0 L172.7 139.8 L173.7 141.5 L174.6 143.3 L175.6 145.0 L176.7 146.7 L177.7 148.5 L178.7 150.2 L179.7 151.9 L180.8 153.6 L181.8 155.3 L182.9 157.0 L184.0 158.7 L185.1 160.4 L186.1 162.1 L187.2 163.8 L188.4 165.5 L189.5 167.1 L190.6 168.8 L191.7 170.4 L192.9 172.1 L194.1 173.7 L195.2 175.4 L196.4 177.0 L197.6 178.6 L198.8 180.2 L200.0 181.8 L201.2 183.4 L202.4 185.0 L203.7 186.6 L204.9 188.2 L206.2 189.8 L207.5 191.3 L208.7 192.9 L210.0 194.4 L211.3 196.0 L212.6 197.5 L213.9 199.1 L215.3 200.6 L216.6 202.1 L217.9 203.6 L219.3 205.1 L220.7 206.6 L222.0 208.1 L223.4 209.6 L224.8 211.1 L226.2 212.5 L227.6 214.0 L229.0 215.5 L230.4 216.9 L231.8 218.4 L233.2 219.8 L234.7 221.3 L236.1 222.7 L237.6 224.1 L239.0 225.5 L240.5 227.0 L241.9 228.4 L243.4 229.8 L244.9 231.2 L246.3 232.6 L247.8 234.0 L249.3 235.4 L250.8 236.8 L252.3 238.1 L253.7 239.5 L255.2 240.9 L256.7 242.3 L258.2 243.7 L259.7 245.0 L261.2 246.4 L262.7 247.7 L264.3 249.1 L265.8 250.5 L267.3 251.8 L268.8 253.2 L270.3 254.5 L271.8 255.8 L273.3 257.2 L274.8 258.5 L276.3 259.9 L277.8 261.2 L279.4 262.5 L280.9 263.9 L282.4 265.2 L283.9 266.5 L285.4 267.8 L286.9 269.2 L288.4 270.5 L289.9 271.8 L291.5 273.1 L293.0 274.4 L294.5 275.7 L296.1 277.0 L297.6 278.3 L299.1 279.5 L300.7 280.8 L302.2 282.1 L303.8 283.3 L305.4 284.6 L307.0 285.8 L308.5 287.0 L310.1 288.2 L311.7 289.4 L313.3 290.6 L315.0 291.8 L316.6 293.0 L318.2 294.2 L319.9 295.3 L321.5 296.5 L323.2 297.6 L324.9 298.7 L326.6 299.8 L328.3 300.9 L330.0 302.0 L331.5 303.6 L333.0 305.1 L334.6 306.7 L336.1 308.3 L337.6 309.9 L339.1 311.5 L340.6 313.1 L342.1 314.7 L343.6 316.3 L345.0 317.9 L346.5 319.5 L348.0 321.2 L349.4 322.8 L350.9 324.4 L352.4 326.1 L353.8 327.7 L355.3 329.3 L356.7 331.0 L357.7 332.9 L358.7 334.7 L359.7 336.5 L360.8 338.3 L361.9 340.0 L363.0 341.7 L364.2 343.4 L365.4 345.0 L366.6 346.6 L367.9 348.2 L369.1 349.7 L370.4 351.3 L371.7 352.8 L373.0 354.3 L374.3 355.7 L375.7 357.2 L377.0 358.6 L378.4 360.1 L379.8 361.5 L381.1 362.9 L382.5 364.3 L383.9 365.8 L385.3 367.2 L386.6 368.6 L388.0 370.0 L389.4 371.5 L390.7 372.9 L392.1 374.4 L393.4 375.8 L394.8 377.3 L396.1 378.8 L397.4 380.3 L398.7 381.9 L399.9 383.4 L401.2 385.0 L402.4 386.6 L403.6 388.2 L404.7 389.9 L405.9 391.6 L407.0 393.3 L408.2 395.0 L409.3 396.8 L410.4 398.5 L411.4 400.3 L412.5 402.1 L413.6 403.9 L414.6 405.7 L415.7 407.5 L416.7 409.3 L417.7 411.1 L418.8 413.0 L419.8 414.8 L420.8 416.6 L421.9 418.4 L422.9 420.2 L424.0 422.0 L425.0 423.8 L426.1 425.6 L427.2 427.4 L428.3 429.1 L429.4 430.9 L430.5 432.6 L431.6 434.3 L432.7 435.9 L433.9 437.6 L435.1 439.2 L436.3 440.8 L437.5 442.4 L438.8 443.9 L440.0 445.5 L441.3 446.9 L442.7 448.4 L444.0 449.8 L445.4 451.1 L446.9 452.5 L448.3 453.7 L449.8 455.0 L451.4 456.2 L452.9 457.3 L454.5 458.5 L456.1 459.5 L457.8 460.6 L459.4 461.6 L461.1 462.6 L462.9 463.5 L464.6 464.4 L466.4 465.3 L468.2 466.2 L470.0 467.0 L471.8 467.8 L473.7 468.6 L475.5 469.4 L477.4 470.1 L479.3 470.9 L481.2 471.6 L483.1 472.2 L485.1 472.9 L487.0 473.6 L489.0 474.2 L490.9 474.8 L492.9 475.4 L494.9 476.0 L496.8 476.6 L498.8 477.2 L500.8 477.8 L502.8 478.4 L504.8 478.9 L506.8 479.5 L508.7 480.1 L510.7 480.6 L512.7 481.2 L514.7 481.8 L516.6 482.3 L518.6 482.9 L520.6 483.5 L522.5 484.1 L524.4 484.7 L526.3 485.3 L528.2 485.9 L530.1 486.6 L531.8 487.4 L533.4 488.6 L534.5 490.2 L535.4 492.2 L535.8 494.2 L536.0 496.3 L536.1 498.4 L536.1 500.4 L536.2 502.4 L536.2 504.4 L536.2 506.4 L536.2 508.4 L536.2 510.4 L536.1 512.4 L536.0 514.4 L536.0 516.5 L535.9 518.5 L535.9 520.5 L535.9 522.6 L536.0 524.6 L536.0 526.6 L536.1 528.6 L536.2 530.6 L536.4 532.6 L536.6 534.7 L536.8 536.7 L537.0 538.7 L537.3 540.7 L537.5 542.7 L537.8 544.7 L538.1 546.7 L538.4 548.7 L538.8 550.7 L539.1 552.6 L539.5 554.6 L539.8 556.6 L540.2 558.6 L540.6 560.6 L541.0 562.6 L541.4 564.6 L541.8 566.5 L542.2 568.5 L542.6 570.5 L543.0 572.5 L543.4 574.5 L543.8 576.4 L544.2 578.4 L544.6 580.4" stroke="#6a5acd" stroke-linecap="square"/>
<path d="M821.5 580.4 L820.6 578.6 L819.7 576.8 L818.8 575.0 L817.8 573.2 L816.9 571.4 L815.9 569.6 L815.0 567.9 L814.0 566.1 L813.0 564.3 L812.0 562.6 L811.0 560.8 L810.0 559.1 L809.0 557.4 L808.0 555.6 L806.9 553.9 L805.9 552.2 L804.9 550.5 L803.8 548.8 L802.7 547.1 L801.7 545.4 L800.6 543.7 L799.5 542.0 L798.4 540.4 L797.3 538.7 L796.2 537.0 L795.1 535.4 L793.9 533.7 L792.8 532.1 L791.7 530.4 L790.5 528.8 L789.4 527.1 L788.2 525.5 L787.1 523.9 L785.9 522.3 L784.7 520.6 L783.5 519.0 L782.3 517.4 L781.1 515.8 L779.9 514.2 L778.7 512.6 L777.5 511.0 L776.3 509.4 L775.1 507.9 L773.9 506.3 L772.6 504.7 L771.4 503.1 L770.2 501.5 L768.9 500.0 L767.7 498.4 L766.4 496.9 L765.1 495.3 L763.9 493.7 L762.6 492.2 L761.3 490.6 L760.1 489.1 L758.8 487.6 L757.5 486.0 L756.2 484.5 L754.9 482.9 L753.6 481.4 L752.3 479.9 L751.0 478.3 L749.7 476.8 L748.4 475.3 L747.1 473.8 L745.8 472.3 L744.5 470.7 L743.2 469.2 L741.9 467.7 L740.6 466.2 L739.2 464.7 L737.9 463.2 L736.6 461.7 L735.3 460.2 L733.9 458.7 L732.6 457.2 L731.3 455.7 L729.9 454.2 L728.6 452.7 L727.3 451.2 L725.9 449.7 L724.6 448.2 L723.2 446.7 L721.9 445.2 L720.6 443.7 L719.2 442.2 L717.9 440.7 L716.5 439.2 L715.2 437.7 L713.8 436.2 L712.5 434.7 L711.2 433.2 L709.8 431.7 L708.5 430.2 L707.1 428.7 L705.8 427.2 L704.5 425.7 L703.1 424.2 L701.8 422.8 L700.4 421.3 L699.1 419.8 L697.7 418.3 L696.4 416.8 L695.1 415.3 L693.7 413.8 L692.4 412.3 L691.0 410.8 L689.7 409.3 L688.4 407.8 L687.0 406.3 L685.7 404.8 L684.4 403.3 L683.0 401.8 L681.7 400.3 L680.4 398.8 L679.0 397.3 L677.7 395.8 L676.4 394.3 L675.0 392.8 L673.7 391.3 L672.4 389.8 L671.0 388.3 L669.7 386.8 L668.4 385.3 L667.0 383.8 L665.7 382.3 L664.4 380.8 L663.1 379.3 L661.8 377.8 L660.4 376.3 L659.1 374.8 L657.8 373.3 L656.5 371.8 L655.2 370.2 L653.8 368.7 L652.5 367.2 L651.2 365.7 L649.9 364.2 L648.6 362.7 L647.3 361.1 L646.0 359.6 L644.7 358.1 L643.4 356.6 L642.1 355.1 L640.8 353.5 L639.5 352.0 L638.2 350.5 L636.9 348.9 L635.6 347.4 L634.3 345.9 L633.0 344.3 L631.7 342.8 L630.4 341.3 L629.1 339.7 L627.8 338.2 L626.5 336.7 L625.2 335.1 L624.0 333.6 L622.7 332.0 L621.4 330.5 L620.1 328.9 L618.8 327.4 L617.6 325.9 L616.3 324.3 L615.0 322.8 L613.7 321.2 L612.5 319.7 L611.2 318.1 L609.9 316.5 L608.7 315.0 L607.4 313.4 L606.1 311.9 L604.9 310.3 L603.6 308.8 L602.3 307.2 L601.1 305.6 L599.8 304.1 L598.5 302.5 L597.3 300.9 L596.0 299.4 L594.8 297.8 L593.5 296.2 L592.3 294.7 L591.0 293.1 L589.8 291.5 L588.5 290.0 L587.3 288.4 L586.0 286.8 L584.8 285.2 L583.5 283.7 L582.3 282.1 L581.0 280.5 L579.8 278.9 L578.6 277.4 L577.3 275.8 L576.1 274.2 L574.9 272.6 L573.6 271.0 L572.4 269.4 L571.2 267.9 L569.9 266.3 L568.7 264.7 L567.5 263.1 L566.3 261.5 L565.1 259.9 L563.8 258.3 L562.6 256.7 L561.4 255.1 L560.2 253.5 L559.0 251.9 L557.8 250.3 L556.6 248.7 L555.4 247.1 L554.2 245.5 L553.0 243.9 L551.8 242.2 L550.6 240.6 L549.4 239.0 L548.2 237.4 L547.0 235.8 L545.8 234.2 L544.7 232.5 L543.5 230.9 L542.3 229.3 L541.2 227.6 L540.0 226.0 L538.8 224.4 L537.7 222.7 L536.5 221.1 L535.4 219.5 L534.2 217.8 L533.1 216.2 L531.9 214.5 L530.8 212.9 L529.6 211.2 L528.5 209.6 L527.4 207.9 L526.2 206.3 L525.1 204.6 L524.0 202.9 L522.9 201.3 L521.8 199.6 L520.7 197.9 L519.6 196.3 L518.5 194.6 L517.4 192.9 L516.3 191.2 L515.2 189.6 L514.1 187.9 L513.0 186.2 L511.9 184.5 L510.9 182.8 L509.8 181.1 L508.7 179.4 L507.7 177.7 L506.6 176.0 L505.5 174.3 L504.5 172.6 L503.4 170.9 L502.4 169.2 L501.4 167.5 L500.3 165.7 L499.3 164.0 L498.3 162.3 L497.3 160.6 L496.3 158.8 L495.3 157.1 L494.2 155.4 L493.2 153.6 L492.3 151.9 L491.3 150.1 L490.3 148.4 L489.3 146.6 L488.3 144.9 L487.3 143.1 L486.4 141.4 L485.4 139.6 L484.5 137.9 L483.5 136.1 L482.5 134.3 L481.6 132.6 L480.7 130.8 L479.7 129.0 L478.8 127.2 L477.9 125.5 L476.9 123.7 L476.0 121.9 L475.1 120.1 L474.2 118.3 L473.3 116.5 L472.4 114.7 L471.5 112.9 L470.6 111.1 L469.7 109.3 L468.8 107.5 L467.9 105.7 L467.0 103.9 L466.2 102.1 L465.3 100.3 L464.4 98.5 L463.6 96.7 L462.7 94.9 L461.9 93.0 L461.0 91.2 L460.2 89.4 L459.3 87.6 L458.5 85.7 L457.7 83.9 L456.9 82.1 L456.0 80.3 L455.2 78.4 L454.4 76.6 L453.6 74.7 L452.8 72.9 L452.0 71.1 L451.2 69.2 L450.4 67.4 L449.6 65.5 L448.8 63.7 L448.0 61.8 L447.3 60.0 L446.5 58.1 L445.7 56.3 L444.9 54.4 L444.2 52.5 L443.4 50.7 L442.7 48.8 L441.9 47.0 L441.2 45.1 L440.4 43.2 L439.7 41.4 L439.0 39.5 L438.2 37.6 L437.5 35.7 L436.8 33.9 L436.1 32.0 L435.4 30.1 L434.7 28.2 L434.0 26.4 L433.3 24.5 L432.6 22.6 L431.9 20.7 L431.2 18.8 L430.5 17.0 L429.8 15.1 L429.1 13.2 L428.5 11.3 L427.8 9.4" stroke="#ff99a5" stroke-dasharray="12.1 5.3"/>
<path d="M370.8 580.4 L371.9 578.6 L373.1 576.9 L374.3 575.2 L375.5 573.5 L376.7 571.8 L377.9 570.1 L379.1 568.5 L380.4 566.8 L381.6 565.2 L382.9 563.6 L384.2 562.0 L385.6 560.4 L386.9 558.9 L388.2 557.3 L389.6 555.8 L391.0 554.3 L392.4 552.8 L393.8 551.3 L395.2 549.9 L396.6 548.4 L398.1 547.0 L399.6 545.5 L401.0 544.1 L402.5 542.7 L404.0 541.3 L405.5 540.0 L407.0 538.6 L408.6 537.3 L410.1 535.9 L411.7 534.6 L413.2 533.3 L414.8 532.0 L416.4 530.7 L418.0 529.4 L419.5 528.1 L421.2 526.9 L422.8 525.6 L424.4 524.4 L426.0 523.1 L427.7 521.9 L429.3 520.7 L431.0 519.5 L432.6 518.3 L434.3 517.1 L436.0 515.9 L437.6 514.7 L439.3 513.6 L441.0 512.4 L442.7 511.2 L444.4 510.1 L446.0 508.9 L447.7 507.7 L449.4 506.6 L451.1 505.4 L452.8 504.2 L454.5 503.1 L456.1 501.9 L457.8 500.7 L459.4 499.5 L461.1 498.3 L462.7 497.1 L464.4 495.9 L466.0 494.6 L467.6 493.4 L469.2 492.1 L470.8 490.8 L472.2 489.4 L473.6 488.0 L475.0 486.6 L476.3 485.1 L477.7 483.7 L479.0 482.2 L480.3 480.7 L481.6 479.2 L482.9 477.7 L484.2 476.2 L485.5 474.6 L486.8 473.1 L488.1 471.5 L489.4 470.0 L490.7 468.5 L491.9 466.9 L493.2 465.4 L494.5 463.9 L495.8 462.3 L497.1 460.8 L498.4 459.3 L499.8 457.8 L501.1 456.3 L502.4 454.8 L503.8 453.3 L505.1 451.8 L506.4 450.4 L507.8 448.9 L509.2 447.4 L510.5 446.0 L511.9 444.5 L513.3 443.1 L514.6 441.6 L516.0 440.2 L517.4 438.7 L518.8 437.3 L520.2 435.9 L521.6 434.4 L523.0 433.0 L524.4 431.6 L525.9 430.2 L527.3 428.8 L528.7 427.3 L530.1 425.9 L531.6 424.5 L533.0 423.1 L534.4 421.7 L535.9 420.3 L537.3 418.9 L538.8 417.5 L540.2 416.1 L541.7 414.7 L543.1 413.3 L544.6 411.9 L546.1 410.5 L547.5 409.1 L549.0 407.7 L550.4 406.3 L551.9 404.9 L553.4 403.5 L554.8 402.1 L556.3 400.6 L557.7 399.2 L559.2 397.7 L560.7 396.3 L562.1 394.8 L563.5 393.4 L564.9 391.9 L566.3 390.4 L567.6 388.8 L568.9 387.3 L570.2 385.7 L571.4 384.1 L572.6 382.5 L573.7 380.9 L574.8 379.2 L575.8 377.5 L576.7 375.8 L577.5 374.0 L578.3 372.2 L579.1 370.4 L579.7 368.6 L580.3 366.7 L580.9 364.9 L581.3 363.0 L581.7 361.0 L582.1 359.1 L582.3 357.2 L582.5 355.2 L582.7 353.2 L582.8 351.3 L582.8 349.3 L582.8 347.3 L582.7 345.4 L582.6 343.4 L582.5 341.4 L582.3 339.5 L582.1 337.5 L581.8 335.5 L581.5 333.6 L581.2 331.6 L580.8 329.7 L580.4 327.7 L580.0 325.8 L579.6 323.8 L579.1 321.9 L578.6 319.9 L578.1 318.0 L577.5 316.0 L577.0 314.1 L576.4 312.1 L575.8 310.2 L575.2 308.3 L574.5 306.3 L573.9 304.4 L573.2 302.4 L572.6 300.5 L571.9 298.6 L571.2 296.6 L570.5 294.7 L569.8 292.8 L569.1 290.8 L568.5 288.9 L567.8 287.0 L567.1 285.0 L566.4 283.1 L565.7 281.2 L565.0 279.2 L564.4 277.3 L563.7 275.4 L563.1 273.4 L562.4 271.5 L561.8 269.6 L561.2 267.6 L560.6 265.7 L560.0 263.8 L559.4 261.9 L558.8 259.9 L558.2 258.0 L557.6 256.1 L557.1 254.1 L556.5 252.2 L556.0 250.3 L555.4 248.3 L554.9 246.4 L554.3 244.5 L553.8 242.6 L553.3 240.6 L552.8 238.7 L552.3 236.8 L551.8 234.8 L551.3 232.9 L550.8 231.0 L550.3 229.0 L549.8 227.1 L549.3 225.1 L548.8 223.2 L548.4 221.3 L547.9 219.3 L547.4 217.4 L547.0 215.5 L546.5 213.5 L546.1 211.6 L545.6 209.6 L545.2 207.7 L544.7 205.7 L544.3 203.8 L543.9 201.8 L543.4 199.9 L543.0 198.0 L542.6 196.0 L542.1 194.0 L541.7 192.1 L541.3 190.1 L540.9 188.2 L540.5 186.2 L540.0 184.3 L539.6 182.3 L539.2 180.4 L538.8 178.4 L538.4 176.4 L538.0 174.5 L537.6 172.5 L537.2 170.5 L536.8 168.6 L536.4 166.6 L536.0 164.6 L535.6 162.7 L535.3 160.7 L534.9 158.7 L534.5 156.8 L534.1 154.8 L533.7 152.8 L533.4 150.8 L533.0 148.9 L532.6 146.9 L532.3 144.9 L531.9 142.9 L531.5 140.9 L531.2 139.0 L530.8 137.0 L530.5 135.0 L530.1 133.0 L529.8 131.0 L529.4 129.1 L529.1 127.1 L528.7 125.1 L528.4 123.1 L528.1 121.1 L527.7 119.1 L527.4 117.1 L527.1 115.2 L526.8 113.2 L526.5 111.2 L526.1 109.2 L525.8 107.2 L525.5 105.2 L525.2 103.2 L524.9 101.2 L524.6 99.2 L524.3 97.2 L524.0 95.3 L523.7 93.3 L523.4 91.3 L523.1 89.3 L522.9 87.3 L522.6 85.3 L522.3 83.3 L522.0 81.3 L521.8 79.3 L521.5 77.3 L521.2 75.3 L521.0 73.3 L520.7 71.3 L520.5 69.3 L520.2 67.3 L520.0 65.3 L519.7 63.3 L519.5 61.3 L519.2 59.3 L519.0 57.3 L518.8 55.3 L518.5 53.3 L518.3 51.3 L518.1 49.3 L517.9 47.3 L517.7 45.3 L517.4 43.3 L517.2 41.3 L517.0 39.4 L516.8 37.4 L516.6 35.4 L516.4 33.4 L516.3 31.4 L516.1 29.4 L515.9 27.4 L515.7 25.4 L515.5 23.4 L515.4 21.4 L515.2 19.4 L515.0 17.4 L514.9 15.4 L514.7 13.4 L514.6 11.4 L514.4 9.4" stroke="#e8382b" stroke-dasharray="12.1 5.3"/>
<path d="M760.9 580.4 L760.1 578.6 L759.2 576.8 L758.3 575.0 L757.4 573.2 L756.4 571.4 L755.5 569.7 L754.5 567.9 L753.5 566.2 L752.4 564.4 L751.4 562.7 L750.4 561.0 L749.3 559.2 L748.3 557.5 L747.2 555.8 L746.1 554.1 L745.1 552.4 L744.0 550.6 L742.9 548.9 L741.9 547.2 L740.8 545.5 L739.7 543.8 L738.7 542.0 L737.7 540.3 L736.6 538.6 L735.6 536.8 L734.6 535.1 L733.7 533.3 L732.7 531.6 L731.8 529.8 L730.9 528.0 L730.0 526.3 L729.1 524.5 L728.3 522.7 L727.5 520.8 L726.7 519.0 L726.0 517.2 L725.3 515.3 L724.6 513.5 L724.0 511.6 L723.4 509.7 L722.9 507.8 L722.3 505.9 L721.8 503.9 L721.4 502.0 L720.9 500.1 L720.5 498.1 L720.1 496.1 L719.8 494.2 L719.4 492.2 L719.1 490.2 L718.7 488.2 L718.4 486.3 L718.1 484.3 L717.8 482.3 L717.5 480.3 L717.1 478.3 L716.8 476.3 L716.5 474.3 L716.2 472.3 L715.9 470.3 L715.6 468.3 L715.2 466.3 L714.9 464.3 L714.5 462.4 L714.1 460.4 L713.8 458.4 L713.4 456.4 L713.0 454.5 L712.5 452.5 L712.1 450.5 L711.6 448.6 L711.2 446.6 L710.7 444.7 L710.2 442.8 L709.6 440.8 L709.1 438.9 L708.5 437.0 L707.9 435.1 L707.3 433.2 L706.7 431.2 L706.0 429.3 L705.4 427.4 L704.8 425.5 L704.1 423.6 L703.5 421.7 L702.8 419.8 L702.2 417.9 L701.6 416.0 L701.0 414.1 L700.4 412.2 L699.8 410.3 L699.2 408.4 L698.6 406.5 L698.1 404.5 L697.6 402.6 L697.1 400.7 L696.7 398.7 L696.2 396.8 L695.8 394.8 L695.4 392.8 L695.0 390.9 L694.7 388.9 L694.3 386.9 L694.0 385.0 L693.6 383.0 L693.3 381.0 L693.0 379.0 L692.7 377.0 L692.4 375.0 L692.1 373.0 L691.8 371.0 L691.5 369.0 L691.2 367.0 L690.9 365.0 L690.6 363.1 L690.3 361.1 L690.0 359.1 L689.7 357.1 L689.4 355.1 L689.0 353.1 L688.7 351.1 L688.3 349.1 L688.0 347.1 L687.6 345.1 L687.2 343.2 L686.7 341.2 L686.3 339.2 L685.8 337.2 L685.4 335.3 L684.9 333.3 L684.3 331.4 L683.8 329.5 L683.2 327.5 L682.6 325.6 L682.0 323.7 L681.4 321.8 L680.7 320.0 L680.0 318.1 L679.3 316.3 L678.6 314.4 L677.8 312.6 L677.0 310.8 L676.1 309.0 L675.3 307.3 L674.4 305.5 L673.4 303.8 L672.5 302.1 L671.5 300.4 L670.4 298.7 L669.4 297.0 L668.3 295.4 L667.2 293.8 L666.0 292.1 L664.9 290.5 L663.7 289.0 L662.4 287.4 L661.2 285.8 L660.0 284.3 L658.7 282.7 L657.4 281.2 L656.1 279.7 L654.7 278.2 L653.4 276.7 L652.0 275.2 L650.7 273.7 L649.3 272.2 L647.9 270.7 L646.5 269.3 L645.1 267.8 L643.6 266.3 L642.2 264.9 L640.8 263.4 L639.3 262.0 L637.9 260.5 L636.4 259.1 L635.0 257.6 L633.5 256.2 L632.1 254.7 L630.7 253.3 L629.2 251.8 L627.8 250.3 L626.3 248.9 L624.9 247.4 L623.5 246.0 L622.1 244.5 L620.7 243.0 L619.3 241.5 L617.9 240.0 L616.5 238.5 L615.2 237.0 L613.8 235.5 L612.5 234.0 L611.2 232.4 L609.9 230.9 L608.6 229.3 L607.3 227.8 L606.1 226.2 L604.8 224.6 L603.6 223.0 L602.4 221.4 L601.2 219.8 L600.0 218.2 L598.9 216.6 L597.7 214.9 L596.6 213.3 L595.5 211.6 L594.3 210.0 L593.2 208.3 L592.2 206.6 L591.1 205.0 L590.1 203.3 L589.0 201.6 L588.0 199.9 L587.0 198.1 L586.0 196.4 L585.0 194.7 L584.1 192.9 L583.1 191.2 L582.2 189.4 L581.3 187.7 L580.4 185.9 L579.5 184.1 L578.6 182.3 L577.7 180.5 L576.9 178.7 L576.1 176.9 L575.2 175.1 L574.4 173.2 L573.6 171.4 L572.9 169.5 L572.1 167.7 L571.3 165.8 L570.6 164.0 L569.9 162.1 L569.1 160.2 L568.4 158.3 L567.7 156.4 L567.1 154.6 L566.4 152.7 L565.7 150.8 L565.1 148.8 L564.4 146.9 L563.8 145.0 L563.2 143.1 L562.6 141.2 L562.0 139.2 L561.4 137.3 L560.8 135.4 L560.2 133.4 L559.6 131.5 L559.1 129.6 L558.5 127.6 L558.0 125.7 L557.4 123.7 L556.9 121.8 L556.4 119.8 L555.8 117.8 L555.3 115.9 L554.8 113.9 L554.3 112.0 L553.8 110.0 L553.3 108.0 L552.9 106.1 L552.4 104.1 L551.9 102.1 L551.4 100.2 L551.0 98.2 L550.5 96.2 L550.0 94.3 L549.6 92.3 L549.1 90.4 L548.7 88.4 L548.2 86.4 L547.8 84.5 L547.4 82.5 L546.9 80.6 L546.5 78.6 L546.1 76.7 L545.6 74.7 L545.2 72.7 L544.8 70.8 L544.4 68.8 L544.0 66.9 L543.6 64.9 L543.2 63.0 L542.8 61.0 L542.4 59.0 L542.0 57.1 L541.7 55.1 L541.3 53.2 L540.9 51.2 L540.6 49.2 L540.2 47.3 L539.9 45.3 L539.5 43.3 L539.2 41.4 L538.9 39.4 L538.5 37.4 L538.2 35.4 L537.9 33.4 L537.6 31.5 L537.3 29.5 L537.0 27.5 L536.7 25.5 L536.4 23.5 L536.2 21.5 L535.9 19.5 L535.7 17.5 L535.4 15.5 L535.2 13.4 L534.9 11.4 L534.7 9.4" stroke="#3cb371" stroke-dasharray="12.1 5.3"/>
<path d="M888.6 580.4 L887.6 578.6 L886.6 576.9 L885.6 575.1 L884.6 573.4 L883.6 571.6 L882.6 569.9 L881.6 568.1 L880.6 566.4 L879.6 564.7 L878.6 562.9 L877.5 561.2 L876.5 559.5 L875.4 557.8 L874.4 556.0 L873.3 554.3 L872.3 552.6 L871.2 550.9 L870.2 549.2 L869.1 547.5 L868.0 545.8 L866.9 544.1 L865.8 542.4 L864.7 540.8 L863.6 539.1 L862.5 537.4 L861.4 535.7 L860.3 534.1 L859.2 532.4 L858.1 530.8 L857.0 529.1 L855.8 527.4 L854.7 525.8 L853.5 524.2 L852.4 522.5 L851.2 520.9 L850.1 519.2 L848.9 517.6 L847.8 516.0 L846.6 514.4 L845.4 512.7 L844.2 511.1 L843.1 509.5 L841.9 507.9 L840.7 506.3 L839.5 504.7 L838.3 503.1 L837.1 501.5 L835.8 499.9 L834.6 498.3 L833.4 496.7 L832.2 495.1 L830.9 493.5 L829.7 492.0 L828.4 490.4 L827.2 488.8 L825.9 487.3 L824.7 485.7 L823.4 484.1 L822.2 482.6 L820.9 481.0 L819.6 479.5 L818.3 477.9 L817.0 476.4 L815.7 474.8 L814.5 473.3 L813.2 471.8 L811.8 470.2 L810.5 468.7 L809.2 467.2 L807.9 465.6 L806.6 464.1 L805.2 462.6 L803.9 461.1 L802.6 459.6 L801.2 458.1 L799.9 456.5 L798.5 455.0 L797.2 453.5 L795.8 452.0 L794.5 450.5 L793.1 449.0 L791.7 447.5 L790.4 446.0 L789.0 444.5 L787.6 443.1 L786.3 441.6 L784.9 440.1 L783.5 438.6 L782.2 437.1 L780.8 435.6 L779.4 434.1 L778.1 432.6 L776.7 431.1 L775.3 429.6 L774.0 428.1 L772.6 426.6 L771.2 425.1 L769.9 423.6 L768.5 422.1 L767.2 420.6 L765.8 419.1 L764.5 417.6 L763.2 416.1 L761.8 414.5 L760.5 413.0 L759.2 411.5 L757.9 410.0 L756.5 408.4 L755.2 406.9 L753.9 405.4 L752.6 403.8 L751.4 402.3 L750.1 400.7 L748.8 399.2 L747.6 397.6 L746.3 396.1 L745.1 394.5 L743.8 392.9 L742.6 391.3 L741.4 389.7 L740.2 388.1 L739.0 386.5 L737.8 384.9 L736.6 383.3 L735.4 381.7 L734.3 380.1 L733.1 378.4 L732.0 376.8 L730.9 375.1 L729.8 373.5 L728.7 371.8 L727.6 370.2 L726.5 368.5 L725.5 366.8 L724.4 365.1 L723.4 363.4 L722.4 361.7 L721.4 359.9 L720.4 358.2 L719.4 356.5 L718.5 354.7 L717.5 353.0 L716.6 351.2 L715.7 349.4 L714.7 347.7 L713.8 345.9 L712.9 344.1 L712.0 342.3 L711.2 340.5 L710.3 338.7 L709.4 336.9 L708.6 335.1 L707.7 333.3 L706.9 331.5 L706.1 329.6 L705.3 327.8 L704.5 326.0 L703.7 324.1 L702.9 322.3 L702.1 320.4 L701.3 318.6 L700.5 316.7 L699.7 314.9 L698.9 313.0 L698.2 311.2 L697.4 309.3 L696.7 307.4 L695.9 305.6 L695.2 303.7 L694.4 301.8 L693.7 300.0 L692.9 298.1 L692.2 296.2 L691.4 294.4 L690.7 292.5 L689.9 290.6 L689.2 288.8 L688.4 286.9 L687.7 285.0 L686.9 283.2 L686.2 281.3 L685.4 279.5 L684.6 277.6 L683.8 275.7 L683.1 273.9 L682.3 272.0 L681.5 270.2 L680.7 268.4 L679.9 266.5 L679.1 264.7 L678.2 262.9 L677.4 261.0 L676.6 259.2 L675.7 257.4 L674.9 255.6 L674.0 253.7 L673.1 251.9 L672.3 250.1 L671.4 248.3 L670.5 246.5 L669.6 244.7 L668.7 242.9 L667.9 241.1 L667.0 239.3 L666.0 237.5 L665.1 235.7 L664.2 233.9 L663.3 232.1 L662.4 230.3 L661.5 228.5 L660.5 226.8 L659.6 225.0 L658.7 223.2 L657.8 221.4 L656.8 219.6 L655.9 217.8 L655.0 216.0 L654.1 214.3 L653.1 212.5 L652.2 210.7 L651.3 208.9 L650.4 207.1 L649.5 205.3 L648.6 203.5 L647.7 201.7 L646.8 199.9 L646.0 198.1 L645.1 196.3 L644.2 194.5 L643.4 192.6 L642.6 190.8 L641.7 189.0 L640.9 187.2 L640.1 185.3 L639.3 183.5 L638.5 181.7 L637.8 179.8 L637.0 178.0 L636.3 176.1 L635.6 174.3 L634.8 172.4 L634.1 170.5 L633.4 168.6 L632.8 166.8 L632.1 164.9 L631.4 163.0 L630.8 161.1 L630.2 159.2 L629.6 157.3 L628.9 155.4 L628.3 153.5 L627.8 151.6 L627.2 149.7 L626.6 147.7 L626.1 145.8 L625.5 143.9 L625.0 142.0 L624.4 140.0 L623.9 138.1 L623.4 136.2 L622.9 134.2 L622.4 132.3 L621.9 130.3 L621.5 128.4 L621.0 126.4 L620.5 124.5 L620.1 122.5 L619.6 120.5 L619.2 118.6 L618.8 116.6 L618.3 114.6 L617.9 112.7 L617.5 110.7 L617.1 108.7 L616.7 106.7 L616.3 104.8 L615.9 102.8 L615.6 100.8 L615.2 98.8 L614.8 96.8 L614.5 94.9 L614.1 92.9 L613.7 90.9 L613.4 88.9 L613.1 86.9 L612.7 84.9 L612.4 82.9 L612.1 80.9 L611.7 78.9 L611.4 76.9 L611.1 74.9 L610.8 72.9 L610.4 71.0 L610.1 69.0 L609.8 67.0 L609.5 65.0 L609.2 63.0 L608.9 61.0 L608.6 59.0 L608.3 57.0 L608.0 55.0 L607.7 53.0 L607.4 51.0 L607.1 49.0 L606.8 47.0 L606.6 45.0 L606.3 43.0 L606.0 41.0 L605.7 39.1 L605.4 37.1 L605.1 35.1 L604.8 33.1 L604.5 31.1 L604.2 29.1 L603.9 27.1 L603.6 25.2 L603.3 23.2 L603.0 21.2 L602.7 19.2 L602.4 17.3 L602.1 15.3 L601.8 13.3 L601.5 11.4 L601.2 9.4" stroke="#ff8c3c" stroke-dasharray="12.1 5.3"/>
<path d="M956.6 580.4 L955.7 578.6 L954.8 576.8 L953.9 575.0 L952.9 573.2 L952.0 571.4 L951.1 569.7 L950.1 567.9 L949.1 566.1 L948.2 564.4 L947.2 562.6 L946.2 560.9 L945.2 559.2 L944.2 557.4 L943.1 555.7 L942.1 554.0 L941.1 552.3 L940.0 550.6 L939.0 548.9 L937.9 547.2 L936.8 545.5 L935.7 543.8 L934.7 542.1 L933.6 540.4 L932.5 538.7 L931.3 537.1 L930.2 535.4 L929.1 533.7 L928.0 532.1 L926.8 530.4 L925.7 528.8 L924.5 527.2 L923.4 525.5 L922.2 523.9 L921.1 522.2 L919.9 520.6 L918.7 519.0 L917.5 517.4 L916.3 515.8 L915.1 514.2 L913.9 512.6 L912.7 511.0 L911.5 509.4 L910.3 507.8 L909.1 506.2 L907.8 504.6 L906.6 503.0 L905.4 501.4 L904.1 499.8 L902.9 498.3 L901.6 496.7 L900.4 495.1 L899.1 493.5 L897.9 492.0 L896.6 490.4 L895.3 488.9 L894.1 487.3 L892.8 485.7 L891.5 484.2 L890.2 482.6 L889.0 481.1 L887.7 479.6 L886.4 478.0 L885.1 476.5 L883.8 474.9 L882.5 473.4 L881.2 471.9 L879.9 470.3 L878.6 468.8 L877.3 467.3 L876.0 465.8 L874.7 464.2 L873.4 462.7 L872.1 461.2 L870.8 459.7 L869.4 458.2 L868.1 456.6 L866.8 455.1 L865.5 453.6 L864.2 452.1 L862.8 450.6 L861.5 449.1 L860.2 447.6 L858.8 446.1 L857.5 444.6 L856.2 443.1 L854.8 441.5 L853.5 440.0 L852.2 438.5 L850.8 437.0 L849.5 435.5 L848.2 434.0 L846.8 432.5 L845.5 431.0 L844.2 429.5 L842.8 428.0 L841.5 426.5 L840.1 425.0 L838.8 423.5 L837.5 422.1 L836.1 420.6 L834.8 419.1 L833.4 417.6 L832.1 416.1 L830.8 414.6 L829.4 413.1 L828.1 411.6 L826.7 410.1 L825.4 408.6 L824.1 407.1 L822.7 405.6 L821.4 404.1 L820.1 402.6 L818.7 401.1 L817.4 399.6 L816.0 398.1 L814.7 396.6 L813.4 395.1 L812.1 393.6 L810.7 392.1 L809.4 390.5 L808.1 389.0 L806.8 387.5 L805.4 386.0 L804.1 384.5 L802.8 383.0 L801.5 381.5 L800.2 380.0 L798.8 378.4 L797.5 376.9 L796.2 375.4 L794.9 373.9 L793.6 372.4 L792.3 370.9 L791.0 369.3 L789.7 367.8 L788.4 366.3 L787.1 364.8 L785.8 363.2 L784.5 361.7 L783.2 360.2 L781.9 358.7 L780.6 357.1 L779.3 355.6 L778.0 354.1 L776.7 352.5 L775.4 351.0 L774.1 349.5 L772.8 348.0 L771.5 346.4 L770.2 344.9 L768.9 343.4 L767.6 341.8 L766.3 340.3 L765.0 338.8 L763.7 337.3 L762.4 335.7 L761.1 334.2 L759.8 332.7 L758.5 331.1 L757.2 329.6 L755.9 328.1 L754.6 326.6 L753.3 325.0 L752.0 323.5 L750.7 322.0 L749.4 320.5 L748.1 318.9 L746.8 317.4 L745.5 315.9 L744.2 314.4 L742.8 312.8 L741.5 311.3 L740.2 309.8 L738.9 308.3 L737.6 306.8 L736.3 305.3 L735.0 303.7 L733.6 302.2 L732.3 300.7 L731.0 299.2 L729.7 297.7 L728.3 296.2 L727.0 294.7 L725.7 293.2 L724.3 291.7 L723.0 290.1 L721.7 288.6 L720.3 287.1 L719.0 285.6 L717.6 284.1 L716.3 282.7 L714.9 281.2 L713.6 279.7 L712.2 278.2 L710.9 276.7 L709.5 275.2 L708.2 273.7 L706.8 272.2 L705.4 270.7 L704.1 269.2 L702.7 267.7 L701.4 266.3 L700.0 264.8 L698.6 263.3 L697.3 261.8 L695.9 260.3 L694.6 258.8 L693.2 257.3 L691.9 255.8 L690.5 254.3 L689.2 252.8 L687.8 251.3 L686.5 249.8 L685.2 248.3 L683.8 246.8 L682.5 245.3 L681.2 243.8 L679.9 242.3 L678.5 240.8 L677.2 239.2 L675.9 237.7 L674.6 236.2 L673.3 234.7 L672.0 233.1 L670.7 231.6 L669.5 230.0 L668.2 228.5 L666.9 226.9 L665.7 225.4 L664.4 223.8 L663.2 222.2 L662.0 220.7 L660.7 219.1 L659.5 217.5 L658.3 215.9 L657.1 214.3 L655.9 212.7 L654.7 211.1 L653.6 209.5 L652.4 207.9 L651.2 206.2 L650.1 204.6 L649.0 202.9 L647.8 201.3 L646.7 199.6 L645.6 198.0 L644.5 196.3 L643.4 194.7 L642.3 193.0 L641.3 191.3 L640.2 189.6 L639.2 187.9 L638.1 186.2 L637.1 184.5 L636.1 182.8 L635.1 181.1 L634.1 179.3 L633.1 177.6 L632.1 175.8 L631.2 174.1 L630.2 172.3 L629.3 170.6 L628.4 168.8 L627.4 167.0 L626.5 165.3 L625.6 163.5 L624.8 161.7 L623.9 159.9 L623.0 158.1 L622.2 156.3 L621.3 154.5 L620.5 152.6 L619.7 150.8 L618.9 149.0 L618.1 147.1 L617.3 145.3 L616.5 143.4 L615.8 141.6 L615.0 139.7 L614.3 137.8 L613.6 136.0 L612.8 134.1 L612.1 132.2 L611.4 130.3 L610.7 128.4 L610.0 126.5 L609.4 124.6 L608.7 122.7 L608.0 120.8 L607.4 118.9 L606.8 117.0 L606.1 115.1 L605.5 113.2 L604.9 111.2 L604.3 109.3 L603.7 107.4 L603.1 105.4 L602.5 103.5 L601.9 101.6 L601.4 99.6 L600.8 97.7 L600.3 95.7 L599.7 93.8 L599.2 91.8 L598.7 89.9 L598.1 87.9 L597.6 85.9 L597.1 84.0 L596.6 82.0 L596.1 80.1 L595.6 78.1 L595.1 76.1 L594.6 74.2 L594.2 72.2 L593.7 70.2 L593.2 68.3 L592.8 66.3 L592.3 64.3 L591.9 62.3 L591.4 60.4 L591.0 58.4 L590.6 56.4 L590.1 54.5 L589.7 52.5 L589.3 50.5 L588.9 48.5 L588.5 46.6 L588.1 44.6 L587.7 42.6 L587.3 40.7 L586.9 38.7 L586.5 36.7 L586.1 34.8 L585.7 32.8 L585.3 30.8 L584.9 28.9 L584.6 26.9 L584.2 25.0 L583.8 23.0 L583.5 21.1 L583.1 19.1 L582.7 17.2 L582.4 15.2 L582.0 13.3 L581.7 11.3 L581.3 9.4" stroke="#ffcc99" stroke-dasharray="12.1 5.3"/>
<path d="M831.4 580.4 L829.5 579.7 L827.6 579.0 L825.7 578.3 L823.8 577.6 L821.9 576.9 L820.0 576.2 L818.1 575.4 L816.2 574.7 L814.4 573.9 L812.5 573.1 L810.7 572.3 L808.8 571.5 L807.0 570.6 L805.2 569.8 L803.3 568.9 L801.5 568.1 L799.7 567.2 L797.9 566.3 L796.1 565.4 L794.3 564.5 L792.6 563.5 L790.8 562.6 L789.0 561.6 L787.3 560.7 L785.5 559.7 L783.8 558.7 L782.1 557.7 L780.3 556.7 L778.6 555.7 L776.9 554.6 L775.2 553.6 L773.5 552.5 L771.8 551.5 L770.1 550.4 L768.4 549.3 L766.8 548.2 L765.1 547.1 L763.4 546.0 L761.8 544.8 L760.1 543.7 L758.5 542.5 L756.9 541.4 L755.2 540.2 L753.6 539.0 L752.0 537.8 L750.4 536.6 L748.8 535.4 L747.2 534.2 L745.6 533.0 L744.1 531.8 L742.5 530.5 L740.9 529.3 L739.4 528.0 L737.8 526.8 L736.3 525.5 L734.7 524.2 L733.2 522.9 L731.6 521.6 L730.1 520.3 L728.6 519.0 L727.1 517.7 L725.6 516.4 L724.1 515.1 L722.6 513.7 L721.1 512.4 L719.6 511.0 L718.1 509.7 L716.6 508.3 L715.2 507.0 L713.7 505.6 L712.2 504.2 L710.8 502.9 L709.3 501.5 L707.9 500.1 L706.4 498.7 L705.0 497.3 L703.5 495.9 L702.1 494.5 L700.7 493.1 L699.2 491.7 L697.8 490.3 L696.4 488.9 L695.0 487.5 L693.6 486.0 L692.2 484.6 L690.8 483.2 L689.4 481.7 L688.0 480.3 L686.6 478.9 L685.2 477.4 L683.8 476.0 L682.4 474.5 L681.0 473.1 L679.7 471.6 L678.3 470.1 L676.9 468.7 L675.5 467.2 L674.2 465.7 L672.8 464.3 L671.5 462.8 L670.1 461.3 L668.7 459.8 L667.4 458.3 L666.0 456.9 L664.7 455.4 L663.3 453.9 L662.0 452.4 L660.7 450.9 L659.3 449.4 L658.0 447.9 L656.7 446.4 L655.3 444.9 L654.0 443.4 L652.7 441.9 L651.3 440.4 L650.0 438.9 L648.7 437.4 L647.4 435.8 L646.1 434.3 L644.7 432.8 L643.4 431.3 L642.1 429.8 L640.8 428.3 L639.5 426.7 L638.2 425.2 L636.9 423.7 L635.6 422.2 L634.2 420.6 L632.9 419.1 L631.6 417.6 L630.3 416.1 L629.0 414.5 L627.7 413.0 L626.4 411.5 L625.1 409.9 L623.8 408.4 L622.5 406.9 L621.2 405.4 L619.9 403.8 L618.6 402.3 L617.3 400.8 L616.0 399.2 L614.7 397.7 L613.4 396.2 L612.1 394.6 L610.8 393.1 L609.5 391.6 L608.2 390.0 L606.9 388.5 L605.6 387.0 L604.3 385.4 L603.0 383.9 L601.7 382.4 L600.4 380.8 L599.1 379.3 L597.8 377.8 L596.5 376.3 L595.2 374.7 L593.9 373.2 L592.6 371.7 L591.3 370.2 L590.0 368.6 L588.7 367.1 L587.3 365.6 L586.0 364.1 L584.7 362.6 L583.4 361.1 L582.1 359.5 L580.8 358.0 L579.5 356.5 L578.1 355.0 L576.8 353.5 L575.5 352.0 L574.2 350.5 L572.9 349.0 L571.5 347.5 L570.2 346.0 L568.9 344.4 L567.6 342.9 L566.2 341.4 L564.9 339.9 L563.6 338.4 L562.3 336.9 L561.0 335.4 L559.6 333.9 L558.3 332.4 L557.0 330.9 L555.7 329.4 L554.3 327.9 L553.0 326.4 L551.7 324.9 L550.4 323.4 L549.0 321.8 L547.7 320.3 L546.4 318.8 L545.1 317.3 L543.8 315.8 L542.4 314.3 L541.1 312.8 L539.8 311.3 L538.5 309.7 L537.2 308.2 L535.8 306.7 L534.5 305.2 L533.2 303.7 L531.9 302.2 L530.6 300.6 L529.3 299.1 L528.0 297.6 L526.7 296.1 L525.3 294.5 L524.0 293.0 L522.7 291.5 L521.4 289.9 L520.1 288.4 L518.8 286.9 L517.5 285.3 L516.2 283.8 L514.9 282.2 L513.6 280.7 L512.4 279.1 L511.1 277.6 L509.8 276.0 L508.5 274.5 L507.2 272.9 L506.0 271.3 L504.7 269.8 L503.4 268.2 L502.2 266.6 L500.9 265.1 L499.7 263.5 L498.4 261.9 L497.2 260.3 L495.9 258.7 L494.7 257.1 L493.5 255.5 L492.3 253.9 L491.1 252.3 L489.8 250.7 L488.6 249.1 L487.5 247.5 L486.3 245.9 L485.1 244.3 L483.9 242.6 L482.8 241.0 L481.6 239.4 L480.4 237.7 L479.3 236.1 L478.2 234.4 L477.0 232.7 L475.9 231.1 L474.8 229.4 L473.7 227.7 L472.6 226.1 L471.6 224.4 L470.5 222.7 L469.4 221.0 L468.4 219.3 L467.3 217.6 L466.3 215.9 L465.3 214.2 L464.3 212.4 L463.3 210.7 L462.3 209.0 L461.3 207.2 L460.3 205.5 L459.4 203.8 L458.4 202.0 L457.5 200.2 L456.6 198.5 L455.6 196.7 L454.7 194.9 L453.8 193.1 L453.0 191.3 L452.1 189.6 L451.2 187.8 L450.4 186.0 L449.5 184.1 L448.7 182.3 L447.8 180.5 L447.0 178.7 L446.2 176.9 L445.4 175.0 L444.6 173.2 L443.9 171.4 L443.1 169.5 L442.3 167.7 L441.6 165.8 L440.9 164.0 L440.1 162.1 L439.4 160.2 L438.7 158.4 L438.0 156.5 L437.3 154.6 L436.6 152.7 L436.0 150.8 L435.3 148.9 L434.7 147.0 L434.0 145.1 L433.4 143.2 L432.8 141.3 L432.1 139.4 L431.5 137.5 L430.9 135.6 L430.4 133.7 L429.8 131.7 L429.2 129.8 L428.7 127.9 L428.1 125.9 L427.6 124.0 L427.0 122.1 L426.5 120.1 L426.0 118.2 L425.5 116.2 L425.0 114.3 L424.5 112.3 L424.0 110.4 L423.6 108.4 L423.1 106.4 L422.6 104.5 L422.2 102.5 L421.7 100.5 L421.3 98.6 L420.9 96.6 L420.5 94.6 L420.0 92.6 L419.6 90.7 L419.2 88.7 L418.8 86.7 L418.4 84.7 L418.0 82.7 L417.6 80.8 L417.3 78.8 L416.9 76.8 L416.5 74.8 L416.2 72.8 L415.8 70.8 L415.5 68.8 L415.1 66.8 L414.8 64.9 L414.4 62.9 L414.1 60.9 L413.8 58.9 L413.4 56.9 L413.1 54.9 L412.8 52.9 L412.5 50.9 L412.2 48.9 L411.8 47.0 L411.5 45.0 L411.2 43.0 L410.9 41.0 L410.6 39.0 L410.3 37.0 L410.0 35.0 L409.7 33.1 L409.4 31.1 L409.1 29.1 L408.9 27.1 L408.6 25.1 L408.3 23.2 L408.0 21.2 L407.7 19.2 L407.4 17.3 L407.1 15.3 L406.9 13.3 L406.6 11.4 L406.3 9.4" stroke="#1f77b4" stroke-dasharray="12.1 5.3"/>
<path d="M239.0 580.4 L240.8 579.3 L242.4 578.0 L244.0 576.7 L245.4 575.3 L246.8 573.9 L248.2 572.4 L249.4 570.8 L250.6 569.1 L251.7 567.5 L252.8 565.7 L253.9 564.0 L254.9 562.2 L255.9 560.3 L256.8 558.5 L257.8 556.7 L258.7 554.8 L259.7 552.9 L260.6 551.1 L261.6 549.2 L262.5 547.4 L263.5 545.6 L264.5 543.8 L265.6 542.1 L266.7 540.4 L267.9 538.7 L269.1 537.1 L270.3 535.6 L271.7 534.1 L273.1 532.7 L274.5 531.3 L276.0 530.0 L277.6 528.7 L279.1 527.5 L280.8 526.2 L282.4 525.0 L284.1 523.9 L285.8 522.7 L287.5 521.6 L289.2 520.4 L290.9 519.3 L292.6 518.1 L294.3 516.9 L296.0 515.8 L297.6 514.5 L299.2 513.3 L300.8 512.0 L302.4 510.7 L303.9 509.4 L305.4 508.0 L306.8 506.5 L308.2 505.0 L309.4 503.4 L310.6 501.8 L311.6 500.1 L312.5 498.4 L313.2 496.7 L313.7 494.9 L313.9 493.1 L314.0 491.3 L313.8 489.4 L313.3 487.5 L312.6 485.7 L311.7 483.8 L310.6 482.1 L309.4 480.4 L308.0 478.7 L306.5 477.2 L305.0 475.8 L303.3 474.4 L301.6 473.1 L299.9 471.9 L298.1 470.7 L296.2 469.6 L294.4 468.5 L292.5 467.5 L290.6 466.4 L288.8 465.4 L286.9 464.3 L285.1 463.3 L283.4 462.2 L281.7 461.1 L280.1 460.0 L278.6 458.8 L277.2 457.6 L275.9 456.3 L274.4 455.0 L272.9 453.6 L271.5 452.1 L270.1 450.7 L268.7 449.2 L267.4 447.6 L266.1 446.1 L264.8 444.5 L263.6 442.9 L262.4 441.2 L261.3 439.5 L260.1 437.9 L259.0 436.2 L257.9 434.5 L256.8 432.7 L255.7 431.0 L254.6 429.2 L253.5 427.5 L252.4 425.8 L251.4 424.0 L250.3 422.3 L249.2 420.5 L248.1 418.8 L247.0 417.1 L245.9 415.4 L244.8 413.7 L243.7 412.0 L242.5 410.3 L241.3 408.7 L240.1 407.1 L238.9 405.5 L237.6 403.9 L236.3 402.4 L235.0 400.9 L233.6 399.4 L232.2 398.0 L230.8 396.6 L229.3 395.2 L227.8 393.9 L226.3 392.6 L224.8 391.3 L223.2 390.1 L221.6 388.9 L220.0 387.7 L218.3 386.5 L216.7 385.4 L215.0 384.3 L213.3 383.3 L211.6 382.2 L209.8 381.2 L208.1 380.2 L206.3 379.3 L204.5 378.3 L202.7 377.4 L200.9 376.6 L199.1 375.7 L197.2 374.9 L195.4 374.1 L193.5 373.3 L191.6 372.6 L189.8 371.8 L187.9 371.1 L185.9 370.4 L184.0 369.7 L182.1 369.1 L180.2 368.5 L178.2 367.8 L176.3 367.2 L174.3 366.7 L172.3 366.1 L170.4 365.5 L168.4 365.0 L166.4 364.5 L164.4 364.0 L162.4 363.5 L160.4 363.0 L158.4 362.5 L156.4 362.1 L154.4 361.6 L152.4 361.2 L150.4 360.7 L148.4 360.3 L146.3 359.9 L144.3 359.5 L142.3 359.1 L140.3 358.7 L138.3 358.3 L136.3 357.9 L134.3 357.5 L132.3 357.2 L130.3 356.8 L128.3 356.4 L126.3 356.0 L124.3 355.7 L122.3 355.3 L120.3 354.9 L118.4 354.6 L116.4 354.2 L114.4 353.8 L112.5 353.4 L110.6 353.1 L108.6 352.7 L106.7 352.3" stroke="#00bfff" stroke-dasharray="12.1 5.3"/>
<path d="M358.6 580.4 L359.5 578.5 L360.4 576.7 L361.2 574.8 L361.9 572.9 L362.6 571.0 L363.3 569.2 L364.0 567.3 L364.6 565.4 L365.2 563.6 L365.8 561.7 L366.4 559.9 L366.9 558.0 L367.5 556.1 L368.1 554.3 L368.7 552.4 L369.3 550.6 L370.0 548.7 L370.7 546.9 L371.4 545.1 L372.1 543.2 L372.9 541.4 L373.8 539.6 L374.7 537.7 L375.7 535.9 L376.7 534.1 L377.7 532.3 L378.8 530.5 L379.9 528.7 L381.0 526.8 L382.1 525.0 L383.2 523.2 L384.3 521.4 L385.4 519.6 L386.5 517.8 L387.6 516.0 L388.6 514.2 L389.6 512.4 L390.5 510.6 L391.4 508.8 L392.2 507.0 L393.0 505.2 L393.7 503.4 L394.3 501.6 L394.8 499.8 L395.2 498.0 L395.5 496.2 L395.7 494.4 L395.8 492.6 L395.8 490.8 L395.6 489.0 L395.4 487.2 L395.0 485.4 L394.5 483.6 L393.9 481.8 L393.3 479.9 L392.6 478.1 L391.8 476.3 L390.9 474.5 L390.0 472.7 L389.0 470.9 L388.0 469.1 L386.9 467.3 L385.9 465.5 L384.8 463.7 L383.6 461.9 L382.5 460.1 L381.4 458.3 L380.3 456.5 L379.2 454.7 L378.1 452.9 L377.0 451.1 L376.0 449.4 L375.0 447.6 L374.0 445.8 L373.1 444.0 L372.2 442.2 L371.4 440.4 L370.6 438.6 L369.8 436.8 L369.0 435.0 L368.3 433.1 L367.7 431.2 L367.0 429.3 L366.4 427.4 L365.8 425.4 L365.3 423.5 L364.7 421.5 L364.2 419.6 L363.7 417.6 L363.2 415.6 L362.6 413.7 L362.1 411.7 L361.5 409.8 L361.0 407.8 L360.4 405.9 L359.8 404.0 L359.1 402.1 L358.4 400.2 L357.7 398.4 L356.9 396.6 L356.1 394.8 L355.3 393.0 L354.3 391.3 L353.3 389.6 L352.3 387.9 L351.1 386.3 L349.9 384.8 L348.6 383.2 L347.3 381.7 L345.9 380.3 L344.5 378.9 L343.1 377.5 L341.6 376.1 L340.1 374.8 L338.5 373.5 L337.0 372.2 L335.5 370.9 L333.9 369.7 L332.3 368.4 L330.7 367.2 L329.1 366.0 L327.5 364.9 L325.9 363.7 L324.2 362.6 L322.6 361.5 L320.9 360.4 L319.2 359.3 L317.6 358.2 L315.9 357.2 L314.2 356.1 L312.5 355.1 L310.7 354.1 L309.0 353.1 L307.3 352.1 L305.5 351.1 L303.8 350.2 L302.0 349.2 L300.2 348.3 L298.5 347.4 L296.7 346.4 L294.9 345.5 L293.1 344.6 L291.3 343.7 L289.5 342.8 L287.7 342.0 L285.9 341.1 L284.1 340.2 L282.3 339.4 L280.4 338.5 L278.6 337.7 L276.8 336.8 L275.0 336.0 L273.1 335.1 L271.3 334.3 L269.5 333.4 L267.6 332.6 L265.8 331.7 L264.0 330.9 L262.1 330.1 L260.3 329.2 L258.5 328.4 L256.6 327.5 L254.8 326.7 L253.0 325.8 L251.1 325.0 L249.3 324.1 L247.5 323.3 L245.7 322.4 L243.9 321.5 L242.1 320.6 L240.2 319.7 L238.4 318.8 L236.6 317.9 L234.9 317.0 L233.1 316.1 L231.3 315.2 L229.5 314.2 L227.7 313.3 L226.0 312.3 L224.2 311.3 L222.5 310.4 L220.7 309.4 L219.0 308.4 L217.2 307.4 L215.5 306.3 L213.8 305.3 L212.1 304.3 L210.4 303.2 L208.7 302.1 L207.0 301.1 L205.3 300.0 L203.6 298.9 L201.9 297.8 L200.2 296.7 L198.6 295.6 L196.9 294.4 L195.3 293.3 L193.6 292.2 L192.0 291.0 L190.3 289.9 L188.7 288.7 L187.1 287.5 L185.4 286.3 L183.8 285.2 L182.2 284.0 L180.6 282.7 L179.0 281.5 L177.4 280.3 L175.8 279.1 L174.2 277.9 L172.6 276.6 L171.1 275.4 L169.5 274.1 L167.9 272.8 L166.4 271.6 L164.8 270.3 L163.3 269.0 L161.7 267.7 L160.2 266.4 L158.7 265.1 L157.1 263.8 L155.6 262.5 L154.1 261.2 L152.6 259.9 L151.1 258.5 L149.6 257.2 L148.1 255.8 L146.6 254.5 L145.1 253.1 L143.6 251.8 L142.2 250.4 L140.7 249.1 L139.2 247.7 L137.8 246.3 L136.3 244.9 L134.8 243.5 L133.4 242.1 L131.9 240.7 L130.5 239.3 L129.1 237.9 L127.6 236.5 L126.2 235.1 L124.8 233.7 L123.4 232.3 L122.0 230.9 L120.5 229.4 L119.1 228.0 L117.7 226.6 L116.3 225.1 L115.0 223.7 L113.6 222.3 L112.2 220.8 L110.8 219.4 L109.4 217.9 L108.1 216.5 L106.7 215.0" stroke="#6a5acd" stroke-dasharray="12.1 5.3"/>
</g>
<rect x="106.4" y="9.4" width="862.1" height="571.0" fill="none" stroke="#000" stroke-width="2"/>
<path d="M106.40 580.4 v7.8 M209.85 580.4 v7.8 M313.30 580.4 v7.8 M416.75 580.4 v7.8 M520.20 580.4 v7.8 M623.65 580.4 v7.8 M727.10 580.4 v7.8 M830.55 580.4 v7.8 M934.00 580.4 v7.8 M106.4 580.40 h-8.1 M106.4 485.23 h-8.1 M106.4 390.07 h-8.1 M106.4 294.90 h-8.1 M106.4 199.73 h-8.1 M106.4 104.57 h-8.1 M106.4 9.40 h-8.1" stroke="#000" stroke-width="2" fill="none"/>
<g font-family='"DejaVu Sans", "Liberation Sans", sans-serif' font-size="24" fill="#000" stroke="#000">
<text x="91" y="589.9" text-anchor="end">0</text>
<text x="91" y="494.7" text-anchor="end">50</text>
<text x="91" y="399.6" text-anchor="end">100</text>
<text x="91" y="304.4" text-anchor="end">150</text>
<text x="91" y="209.2" text-anchor="end">200</text>
<text x="91" y="114.1" text-anchor="end">250</text>
<text x="91" y="18.9" text-anchor="end">300</text>
<text x="105.0" y="614.2" text-anchor="middle">10<tspan font-size="16.8" dy="-8.7">−5</tspan></text>
<text x="208.5" y="614.2" text-anchor="middle">10<tspan font-size="16.8" dy="-8.7">−2</tspan></text>
<text x="311.9" y="614.2" text-anchor="middle">10<tspan font-size="16.8" dy="-8.7">1</tspan></text>
<text x="415.4" y="614.2" text-anchor="middle">10<tspan font-size="16.8" dy="-8.7">4</tspan></text>
<text x="518.8" y="614.2" text-anchor="middle">10<tspan font-size="16.8" dy="-8.7">7</tspan></text>
<text x="622.2" y="614.2" text-anchor="middle">10<tspan font-size="16.8" dy="-8.7">10</tspan></text>
<text x="725.7" y="614.2" text-anchor="middle">10<tspan font-size="16.8" dy="-8.7">13</tspan></text>
<text x="829.1" y="614.2" text-anchor="middle">10<tspan font-size="16.8" dy="-8.7">16</tspan></text>
<text x="932.6" y="614.2" text-anchor="middle">10<tspan font-size="16.8" dy="-8.7">19</tspan></text>
</g>
<g font-family='"DejaVu Sans", "Liberation Sans", sans-serif' font-size="27.65" fill="#000" stroke="#000">
<text x="536.3" y="663.4" text-anchor="middle">Number Density [cm<tspan font-size="19.35" dy="-10.5">−3</tspan><tspan dy="10.5">]</tspan></text>
<text transform="translate(21.5 292.6) rotate(-90)" text-anchor="middle" font-size="27.5">Altitude [km]</text>
</g>
<g font-family='"DejaVu Sans", "Liberation Sans", sans-serif' font-size="24">
<text x="451.2" y="292.9" fill="#1f77b4" stroke="#1f77b4">H<tspan font-size="16.8" dx="0.5" dy="4.2">2</tspan><tspan dx="0.3" dy="-4.2">O</tspan></text>
<text x="555.0" y="435.7" fill="#e8382b" stroke="#e8382b">H</text>
<text x="613.0" y="470.3" fill="#3cb371" stroke="#3cb371">O<tspan font-size="16.8" dx="0.5" dy="4.2">2</tspan></text>
<text x="482.3" y="559.4" fill="#6a5acd" stroke="#6a5acd">HCO</text>
<text x="600.0" y="540.9" fill="#00bfff" stroke="#00bfff">H<tspan font-size="16.8" dx="0.5" dy="4.2">2</tspan><tspan dx="0.3" dy="-4.2">CO</tspan></text>
<text x="788.5" y="505.9" fill="#ff8c3c" stroke="#ff8c3c">CO</text>
<text x="909.5" y="483.8" fill="#ffcc99" stroke="#ffcc99">CO<tspan font-size="16.8" dx="0.5" dy="4.2">2</tspan></text>
<text x="909.4" y="559.4" fill="#ff99a5" stroke="#ff99a5">H<tspan font-size="16.8" dx="0.5" dy="4.2">2</tspan></text>
</g>
<path d="M757.9 41.7 H805.9" stroke="#000" stroke-width="3.5" stroke-linecap="square" fill="none"/>
<path d="M757.9 77.9 H805.9" stroke="#000" stroke-width="3.5" stroke-dasharray="12.1 5.3" fill="none"/>
<g font-family='"DejaVu Sans", "Liberation Sans", sans-serif' font-size="24" fill="#000" stroke="#000">
<text x="825.3" y="49.0">H<tspan font-size="16.8" dx="0.5" dy="3.9">2</tspan><tspan dy="-3.9">: 6%</tspan></text>
<text x="825.3" y="84.9">H<tspan font-size="16.8" dx="0.5" dy="3.9">2</tspan><tspan dy="-3.9">: 0.01%</tspan></text>
</g>
</svg>
</body></html>
